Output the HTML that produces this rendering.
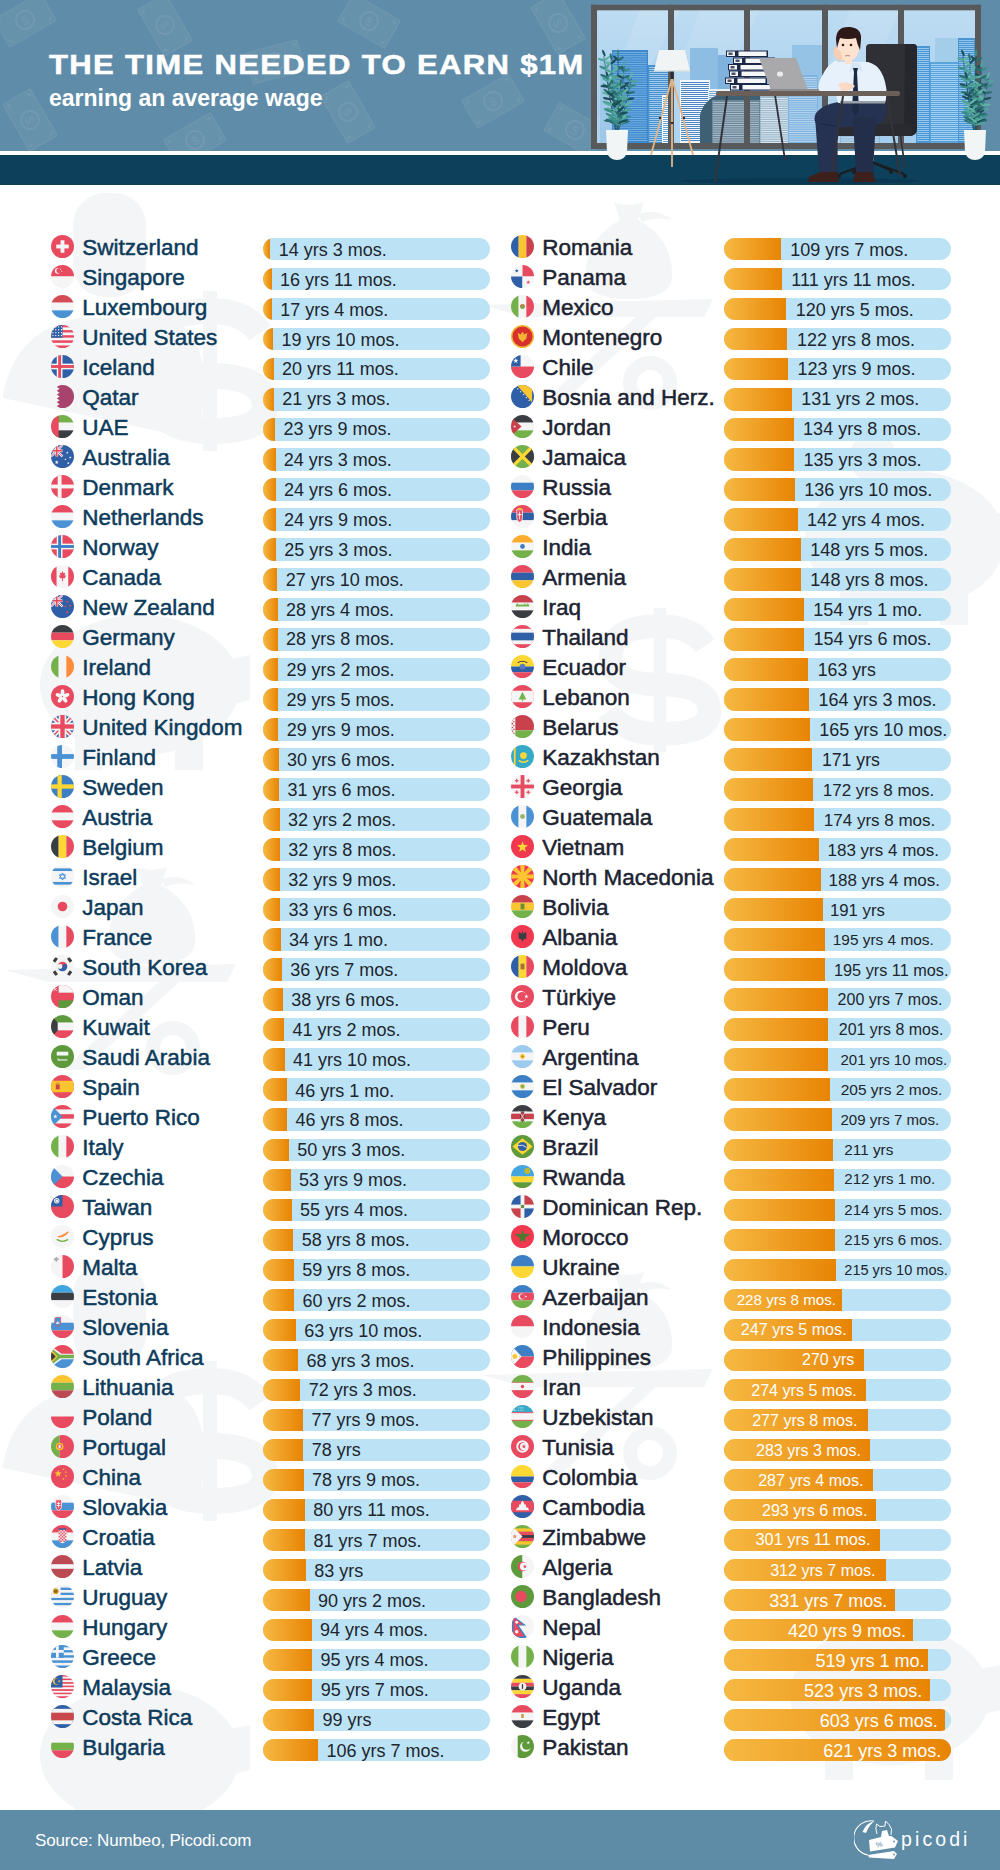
<!DOCTYPE html>
<html><head><meta charset="utf-8"><title>The time needed to earn $1M</title><style>
*{margin:0;padding:0;box-sizing:border-box}
html,body{width:1000px;height:1870px;overflow:hidden;background:#fff}
body{position:relative;font-family:"Liberation Sans",sans-serif}
.fl{position:absolute;width:23px;height:23px;border-radius:50%;overflow:hidden}
.fl svg{display:block}
.nm{position:absolute;font-size:22.5px;line-height:26px;color:#0d3b5b;white-space:nowrap;-webkit-text-stroke:0.5px #0d3b5b}
.nm.r{color:#1c2331;-webkit-text-stroke:0.5px #1c2331}
.tr{position:absolute;width:227px;height:22.5px;border-radius:11.25px;background:#bbe3f5;overflow:hidden}
.or{position:absolute;left:0;top:0;height:100%;background:linear-gradient(90deg,#f6b943,#e88404)}
.vl{position:absolute;line-height:22px;color:#1e252d;white-space:nowrap}
.vl.in{color:#fff}
#hdr{position:absolute;left:0;top:0;width:1000px;height:151px;background:#5f8ca8;overflow:hidden}
#wb{position:absolute;left:0;top:151px;width:1000px;height:4px;background:#fff}
#nv{position:absolute;left:0;top:155px;width:1000px;height:29.5px;background:#0d405b}
#ft{position:absolute;left:0;top:1810px;width:1000px;height:60px;background:#5e8ba6}
</style></head>
<body>
<svg style="position:absolute;left:0;top:185px" width="1000" height="1625" viewBox="0 185 1000 1625"><rect x="73" y="193" width="73" height="104" rx="32" fill="#f4f5f6"/><path d="M3,395 Q15,330 80,318 L170,318 Q200,330 205,380 L200,440 L3,398Z" fill="#f4f5f6"/><g transform="translate(210 371) scale(1.0)"><rect x="-7" y="-80" width="14" height="160" fill="#f4f5f6"/><path d="M50,-38 Q35,-60 0,-60 Q-55,-60 -55,-25 Q-55,5 0,5 Q55,5 55,35 Q55,60 0,60 Q-40,60 -58,35" stroke="#f4f5f6" stroke-width="26" fill="none"/></g><path d="M614,202 Q628,208 644,202 L638,220 Q674,240 672,278 Q670,299 629,299 Q588,299 586,278 Q584,240 620,220Z" fill="#f4f5f6"/><path d="M638,214 Q658,208 672,220 Q656,216 642,222Z" fill="#f4f5f6"/><path d="M482,305 L713,299 L704,317 L526,317Z" fill="#f4f5f6"/><path d="M636,317 L656,317 L560,405 L540,405Z" fill="#f4f5f6"/><circle cx="650" cy="383" r="20" fill="none" stroke="#f4f5f6" stroke-width="14"/><ellipse cx="140" cy="685" rx="100" ry="70" fill="#f4f5f6"/><rect x="75" y="730" width="28" height="40" fill="#f4f5f6"/><rect x="175" y="730" width="28" height="40" fill="#f4f5f6"/><path d="M225,660 L250,655 L250,700 L230,705Z" fill="#f4f5f6"/><rect x="73" y="1263" width="73" height="104" rx="32" fill="#f4f5f6"/><path d="M3,1465 Q15,1400 80,1388 L170,1388 Q200,1400 205,1450 L200,1510 L3,1468Z" fill="#f4f5f6"/><g transform="translate(210 1441) scale(1.0)"><rect x="-7" y="-80" width="14" height="160" fill="#f4f5f6"/><path d="M50,-38 Q35,-60 0,-60 Q-55,-60 -55,-25 Q-55,5 0,5 Q55,5 55,35 Q55,60 0,60 Q-40,60 -58,35" stroke="#f4f5f6" stroke-width="26" fill="none"/></g><path d="M614,1272 Q628,1278 644,1272 L638,1290 Q674,1310 672,1348 Q670,1369 629,1369 Q588,1369 586,1348 Q584,1310 620,1290Z" fill="#f4f5f6"/><path d="M638,1284 Q658,1278 672,1290 Q656,1286 642,1292Z" fill="#f4f5f6"/><path d="M482,1375 L713,1369 L704,1387 L526,1387Z" fill="#f4f5f6"/><path d="M636,1387 L656,1387 L560,1475 L540,1475Z" fill="#f4f5f6"/><circle cx="650" cy="1453" r="20" fill="none" stroke="#f4f5f6" stroke-width="14"/><ellipse cx="140" cy="1755" rx="100" ry="70" fill="#f4f5f6"/><rect x="75" y="1800" width="28" height="40" fill="#f4f5f6"/><rect x="175" y="1800" width="28" height="40" fill="#f4f5f6"/><path d="M225,1730 L250,1725 L250,1770 L230,1775Z" fill="#f4f5f6"/><path d="M137,867 Q151,873 167,867 L161,885 Q197,905 195,943 Q193,964 152,964 Q111,964 109,943 Q107,905 143,885Z" fill="#f4f5f6"/><path d="M161,879 Q181,873 195,885 Q179,881 165,887Z" fill="#f4f5f6"/><path d="M5,970 L236,964 L227,982 L49,982Z" fill="#f4f5f6"/><path d="M159,982 L179,982 L83,1070 L63,1070Z" fill="#f4f5f6"/><circle cx="173" cy="1048" r="20" fill="none" stroke="#f4f5f6" stroke-width="14"/><circle cx="873" cy="458" r="24" fill="#f4f5f6"/><ellipse cx="905" cy="540" rx="100" ry="70" fill="#f4f5f6"/><rect x="840" y="585" width="28" height="40" fill="#f4f5f6"/><rect x="940" y="585" width="28" height="40" fill="#f4f5f6"/><path d="M990,515 L1015,510 L1015,555 L995,560Z" fill="#f4f5f6"/><ellipse cx="890" cy="1695" rx="100" ry="70" fill="#f4f5f6"/><rect x="825" y="1740" width="28" height="40" fill="#f4f5f6"/><rect x="925" y="1740" width="28" height="40" fill="#f4f5f6"/><path d="M975,1670 L1000,1665 L1000,1710 L980,1715Z" fill="#f4f5f6"/><g transform="translate(660 680) scale(0.9)"><rect x="-7" y="-80" width="14" height="160" fill="#f4f5f6"/><path d="M50,-38 Q35,-60 0,-60 Q-55,-60 -55,-25 Q-55,5 0,5 Q55,5 55,35 Q55,60 0,60 Q-40,60 -58,35" stroke="#f4f5f6" stroke-width="26" fill="none"/></g></svg>
<div id="hdr"><svg style="position:absolute;left:0;top:0" width="600" height="151" viewBox="0 0 600 151"><g transform="translate(25 20) rotate(-30)"><rect x="-27" y="-16" width="54" height="32" rx="1.5" fill="#ffffff" fill-opacity="0.055" stroke="#ffffff" stroke-opacity="0.06" stroke-width="1.5"/><circle r="9" fill="none" stroke="#ffffff" stroke-opacity="0.07" stroke-width="2"/><text x="0" y="5" text-anchor="middle" font-size="13" font-weight="bold" fill="#ffffff" fill-opacity="0.07" font-family="Liberation Sans">$</text><path d="M-24,-13 l4,0 l-4,4z M24,13 l-4,0 l4,-4z M24,-13 l-4,0 l4,4z M-24,13 l4,0 l-4,-4z" fill="#ffffff" fill-opacity="0.07"/></g><g transform="translate(165 25) rotate(60)"><rect x="-27" y="-16" width="54" height="32" rx="1.5" fill="#ffffff" fill-opacity="0.055" stroke="#ffffff" stroke-opacity="0.06" stroke-width="1.5"/><circle r="9" fill="none" stroke="#ffffff" stroke-opacity="0.07" stroke-width="2"/><text x="0" y="5" text-anchor="middle" font-size="13" font-weight="bold" fill="#ffffff" fill-opacity="0.07" font-family="Liberation Sans">$</text><path d="M-24,-13 l4,0 l-4,4z M24,13 l-4,0 l4,-4z M24,-13 l-4,0 l4,4z M-24,13 l4,0 l-4,-4z" fill="#ffffff" fill-opacity="0.07"/></g><g transform="translate(30 120) rotate(60)"><rect x="-27" y="-16" width="54" height="32" rx="1.5" fill="#ffffff" fill-opacity="0.055" stroke="#ffffff" stroke-opacity="0.06" stroke-width="1.5"/><circle r="9" fill="none" stroke="#ffffff" stroke-opacity="0.07" stroke-width="2"/><text x="0" y="5" text-anchor="middle" font-size="13" font-weight="bold" fill="#ffffff" fill-opacity="0.07" font-family="Liberation Sans">$</text><path d="M-24,-13 l4,0 l-4,4z M24,13 l-4,0 l4,-4z M24,-13 l-4,0 l4,4z M-24,13 l4,0 l-4,-4z" fill="#ffffff" fill-opacity="0.07"/></g><g transform="translate(195 140) rotate(-30)"><rect x="-27" y="-16" width="54" height="32" rx="1.5" fill="#ffffff" fill-opacity="0.055" stroke="#ffffff" stroke-opacity="0.06" stroke-width="1.5"/><circle r="9" fill="none" stroke="#ffffff" stroke-opacity="0.07" stroke-width="2"/><text x="0" y="5" text-anchor="middle" font-size="13" font-weight="bold" fill="#ffffff" fill-opacity="0.07" font-family="Liberation Sans">$</text><path d="M-24,-13 l4,0 l-4,4z M24,13 l-4,0 l4,-4z M24,-13 l-4,0 l4,4z M-24,13 l4,0 l-4,-4z" fill="#ffffff" fill-opacity="0.07"/></g><g transform="translate(275 62) rotate(-15)"><rect x="-27" y="-16" width="54" height="32" rx="1.5" fill="#ffffff" fill-opacity="0.055" stroke="#ffffff" stroke-opacity="0.06" stroke-width="1.5"/><circle r="9" fill="none" stroke="#ffffff" stroke-opacity="0.07" stroke-width="2"/><text x="0" y="5" text-anchor="middle" font-size="13" font-weight="bold" fill="#ffffff" fill-opacity="0.07" font-family="Liberation Sans">$</text><path d="M-24,-13 l4,0 l-4,4z M24,13 l-4,0 l4,-4z M24,-13 l-4,0 l4,4z M-24,13 l4,0 l-4,-4z" fill="#ffffff" fill-opacity="0.07"/></g><g transform="translate(369 21) rotate(30)"><rect x="-27" y="-16" width="54" height="32" rx="1.5" fill="#ffffff" fill-opacity="0.055" stroke="#ffffff" stroke-opacity="0.06" stroke-width="1.5"/><circle r="9" fill="none" stroke="#ffffff" stroke-opacity="0.07" stroke-width="2"/><text x="0" y="5" text-anchor="middle" font-size="13" font-weight="bold" fill="#ffffff" fill-opacity="0.07" font-family="Liberation Sans">$</text><path d="M-24,-13 l4,0 l-4,4z M24,13 l-4,0 l4,-4z M24,-13 l-4,0 l4,4z M-24,13 l4,0 l-4,-4z" fill="#ffffff" fill-opacity="0.07"/></g><g transform="translate(558 23) rotate(60)"><rect x="-27" y="-16" width="54" height="32" rx="1.5" fill="#ffffff" fill-opacity="0.055" stroke="#ffffff" stroke-opacity="0.06" stroke-width="1.5"/><circle r="9" fill="none" stroke="#ffffff" stroke-opacity="0.07" stroke-width="2"/><text x="0" y="5" text-anchor="middle" font-size="13" font-weight="bold" fill="#ffffff" fill-opacity="0.07" font-family="Liberation Sans">$</text><path d="M-24,-13 l4,0 l-4,4z M24,13 l-4,0 l4,-4z M24,-13 l-4,0 l4,4z M-24,13 l4,0 l-4,-4z" fill="#ffffff" fill-opacity="0.07"/></g><g transform="translate(348 112) rotate(60)"><rect x="-27" y="-16" width="54" height="32" rx="1.5" fill="#ffffff" fill-opacity="0.055" stroke="#ffffff" stroke-opacity="0.06" stroke-width="1.5"/><circle r="9" fill="none" stroke="#ffffff" stroke-opacity="0.07" stroke-width="2"/><text x="0" y="5" text-anchor="middle" font-size="13" font-weight="bold" fill="#ffffff" fill-opacity="0.07" font-family="Liberation Sans">$</text><path d="M-24,-13 l4,0 l-4,4z M24,13 l-4,0 l4,-4z M24,-13 l-4,0 l4,4z M-24,13 l4,0 l-4,-4z" fill="#ffffff" fill-opacity="0.07"/></g><g transform="translate(493 101) rotate(-30)"><rect x="-27" y="-16" width="54" height="32" rx="1.5" fill="#ffffff" fill-opacity="0.055" stroke="#ffffff" stroke-opacity="0.06" stroke-width="1.5"/><circle r="9" fill="none" stroke="#ffffff" stroke-opacity="0.07" stroke-width="2"/><text x="0" y="5" text-anchor="middle" font-size="13" font-weight="bold" fill="#ffffff" fill-opacity="0.07" font-family="Liberation Sans">$</text><path d="M-24,-13 l4,0 l-4,4z M24,13 l-4,0 l4,-4z M24,-13 l-4,0 l4,4z M-24,13 l4,0 l-4,-4z" fill="#ffffff" fill-opacity="0.07"/></g><g transform="translate(575 130) rotate(30)"><rect x="-27" y="-16" width="54" height="32" rx="1.5" fill="#ffffff" fill-opacity="0.055" stroke="#ffffff" stroke-opacity="0.06" stroke-width="1.5"/><circle r="9" fill="none" stroke="#ffffff" stroke-opacity="0.07" stroke-width="2"/><text x="0" y="5" text-anchor="middle" font-size="13" font-weight="bold" fill="#ffffff" fill-opacity="0.07" font-family="Liberation Sans">$</text><path d="M-24,-13 l4,0 l-4,4z M24,13 l-4,0 l4,-4z M24,-13 l-4,0 l4,4z M-24,13 l4,0 l-4,-4z" fill="#ffffff" fill-opacity="0.07"/></g></svg>
<div id="t1" style="position:absolute;left:49px;top:48px;font-size:27.5px;font-weight:bold;color:#fff;letter-spacing:1.16px;line-height:34px;white-space:nowrap;transform:scaleX(1.13);transform-origin:0 0;-webkit-text-stroke:0.5px #fff">THE TIME NEEDED TO EARN $1M</div>
<div style="position:absolute;left:49px;top:84px;font-size:23px;font-weight:bold;color:#fff;line-height:28px;white-space:nowrap">earning an average wage</div>
</div>
<div id="wb"></div>
<div id="nv"></div>
<svg style="position:absolute;left:0;top:0" width="1000" height="190" viewBox="0 0 1000 190"><defs><linearGradient id="sky" x1="0" y1="0" x2="0" y2="1"><stop offset="0" stop-color="#bddcf2"/><stop offset="1" stop-color="#a3cdee"/></linearGradient></defs><rect x="597" y="10" width="378" height="133" fill="url(#sky)"/><polygon points="640,10 680,10 610,143 597,143 597,120" fill="#ffffff" opacity="0.12"/><polygon points="700,10 760,10 690,143 650,143" fill="#ffffff" opacity="0.10"/><polygon points="850,10 900,10 840,143 800,143" fill="#ffffff" opacity="0.10"/><rect x="600" y="60" width="30" height="83" fill="#9fc8e8"/><rect x="690" y="48" width="28" height="95" fill="#8dbde3"/><rect x="718" y="55" width="50" height="88" fill="#7fb3de"/><rect x="792" y="45" width="30" height="98" fill="#95c3e6"/><rect x="935" y="38" width="40" height="105" fill="#a4cdea"/><rect x="612" y="50" width="36" height="93" fill="#3f88cc"/><rect x="613.2" y="52.0" width="33.6" height="0.9" fill="#79b5e6"/><rect x="613.2" y="54.2" width="33.6" height="0.9" fill="#79b5e6"/><rect x="613.2" y="56.4" width="33.6" height="0.9" fill="#79b5e6"/><rect x="613.2" y="58.6" width="33.6" height="0.9" fill="#79b5e6"/><rect x="613.2" y="60.8" width="33.6" height="0.9" fill="#79b5e6"/><rect x="613.2" y="63.0" width="33.6" height="0.9" fill="#79b5e6"/><rect x="613.2" y="65.2" width="33.6" height="0.9" fill="#79b5e6"/><rect x="613.2" y="67.4" width="33.6" height="0.9" fill="#79b5e6"/><rect x="613.2" y="69.6" width="33.6" height="0.9" fill="#79b5e6"/><rect x="613.2" y="71.8" width="33.6" height="0.9" fill="#79b5e6"/><rect x="613.2" y="74.0" width="33.6" height="0.9" fill="#79b5e6"/><rect x="613.2" y="76.2" width="33.6" height="0.9" fill="#79b5e6"/><rect x="613.2" y="78.4" width="33.6" height="0.9" fill="#79b5e6"/><rect x="613.2" y="80.6" width="33.6" height="0.9" fill="#79b5e6"/><rect x="613.2" y="82.8" width="33.6" height="0.9" fill="#79b5e6"/><rect x="613.2" y="85.0" width="33.6" height="0.9" fill="#79b5e6"/><rect x="613.2" y="87.2" width="33.6" height="0.9" fill="#79b5e6"/><rect x="613.2" y="89.4" width="33.6" height="0.9" fill="#79b5e6"/><rect x="613.2" y="91.6" width="33.6" height="0.9" fill="#79b5e6"/><rect x="613.2" y="93.8" width="33.6" height="0.9" fill="#79b5e6"/><rect x="613.2" y="96.0" width="33.6" height="0.9" fill="#79b5e6"/><rect x="613.2" y="98.2" width="33.6" height="0.9" fill="#79b5e6"/><rect x="613.2" y="100.4" width="33.6" height="0.9" fill="#79b5e6"/><rect x="613.2" y="102.6" width="33.6" height="0.9" fill="#79b5e6"/><rect x="613.2" y="104.8" width="33.6" height="0.9" fill="#79b5e6"/><rect x="613.2" y="107.0" width="33.6" height="0.9" fill="#79b5e6"/><rect x="613.2" y="109.2" width="33.6" height="0.9" fill="#79b5e6"/><rect x="613.2" y="111.4" width="33.6" height="0.9" fill="#79b5e6"/><rect x="613.2" y="113.6" width="33.6" height="0.9" fill="#79b5e6"/><rect x="613.2" y="115.8" width="33.6" height="0.9" fill="#79b5e6"/><rect x="613.2" y="118.0" width="33.6" height="0.9" fill="#79b5e6"/><rect x="613.2" y="120.2" width="33.6" height="0.9" fill="#79b5e6"/><rect x="613.2" y="122.4" width="33.6" height="0.9" fill="#79b5e6"/><rect x="613.2" y="124.6" width="33.6" height="0.9" fill="#79b5e6"/><rect x="613.2" y="126.8" width="33.6" height="0.9" fill="#79b5e6"/><rect x="613.2" y="129.0" width="33.6" height="0.9" fill="#79b5e6"/><rect x="613.2" y="131.2" width="33.6" height="0.9" fill="#79b5e6"/><rect x="613.2" y="133.4" width="33.6" height="0.9" fill="#79b5e6"/><rect x="613.2" y="135.6" width="33.6" height="0.9" fill="#79b5e6"/><rect x="613.2" y="137.8" width="33.6" height="0.9" fill="#79b5e6"/><rect x="613.2" y="140.0" width="33.6" height="0.9" fill="#79b5e6"/><rect x="648" y="65" width="22" height="78" fill="#4a90cc"/><rect x="649.2" y="67.0" width="19.6" height="1.0" fill="#9ccbef"/><rect x="649.2" y="69.0" width="19.6" height="1.0" fill="#9ccbef"/><rect x="649.2" y="71.0" width="19.6" height="1.0" fill="#9ccbef"/><rect x="649.2" y="73.0" width="19.6" height="1.0" fill="#9ccbef"/><rect x="649.2" y="75.0" width="19.6" height="1.0" fill="#9ccbef"/><rect x="649.2" y="77.0" width="19.6" height="1.0" fill="#9ccbef"/><rect x="649.2" y="79.0" width="19.6" height="1.0" fill="#9ccbef"/><rect x="649.2" y="81.0" width="19.6" height="1.0" fill="#9ccbef"/><rect x="649.2" y="83.0" width="19.6" height="1.0" fill="#9ccbef"/><rect x="649.2" y="85.0" width="19.6" height="1.0" fill="#9ccbef"/><rect x="649.2" y="87.0" width="19.6" height="1.0" fill="#9ccbef"/><rect x="649.2" y="89.0" width="19.6" height="1.0" fill="#9ccbef"/><rect x="649.2" y="91.0" width="19.6" height="1.0" fill="#9ccbef"/><rect x="649.2" y="93.0" width="19.6" height="1.0" fill="#9ccbef"/><rect x="649.2" y="95.0" width="19.6" height="1.0" fill="#9ccbef"/><rect x="649.2" y="97.0" width="19.6" height="1.0" fill="#9ccbef"/><rect x="649.2" y="99.0" width="19.6" height="1.0" fill="#9ccbef"/><rect x="649.2" y="101.0" width="19.6" height="1.0" fill="#9ccbef"/><rect x="649.2" y="103.0" width="19.6" height="1.0" fill="#9ccbef"/><rect x="649.2" y="105.0" width="19.6" height="1.0" fill="#9ccbef"/><rect x="649.2" y="107.0" width="19.6" height="1.0" fill="#9ccbef"/><rect x="649.2" y="109.0" width="19.6" height="1.0" fill="#9ccbef"/><rect x="649.2" y="111.0" width="19.6" height="1.0" fill="#9ccbef"/><rect x="649.2" y="113.0" width="19.6" height="1.0" fill="#9ccbef"/><rect x="649.2" y="115.0" width="19.6" height="1.0" fill="#9ccbef"/><rect x="649.2" y="117.0" width="19.6" height="1.0" fill="#9ccbef"/><rect x="649.2" y="119.0" width="19.6" height="1.0" fill="#9ccbef"/><rect x="649.2" y="121.0" width="19.6" height="1.0" fill="#9ccbef"/><rect x="649.2" y="123.0" width="19.6" height="1.0" fill="#9ccbef"/><rect x="649.2" y="125.0" width="19.6" height="1.0" fill="#9ccbef"/><rect x="649.2" y="127.0" width="19.6" height="1.0" fill="#9ccbef"/><rect x="649.2" y="129.0" width="19.6" height="1.0" fill="#9ccbef"/><rect x="649.2" y="131.0" width="19.6" height="1.0" fill="#9ccbef"/><rect x="649.2" y="133.0" width="19.6" height="1.0" fill="#9ccbef"/><rect x="649.2" y="135.0" width="19.6" height="1.0" fill="#9ccbef"/><rect x="649.2" y="137.0" width="19.6" height="1.0" fill="#9ccbef"/><rect x="649.2" y="139.0" width="19.6" height="1.0" fill="#9ccbef"/><rect x="649.2" y="141.0" width="19.6" height="1.0" fill="#9ccbef"/><rect x="662" y="95" width="12" height="48" fill="#ffffff"/><rect x="662.8" y="97.0" width="10.4" height="0.9" fill="#5e9fd6"/><rect x="662.8" y="99.0" width="10.4" height="0.9" fill="#5e9fd6"/><rect x="662.8" y="101.0" width="10.4" height="0.9" fill="#5e9fd6"/><rect x="662.8" y="103.0" width="10.4" height="0.9" fill="#5e9fd6"/><rect x="662.8" y="105.0" width="10.4" height="0.9" fill="#5e9fd6"/><rect x="662.8" y="107.0" width="10.4" height="0.9" fill="#5e9fd6"/><rect x="662.8" y="109.0" width="10.4" height="0.9" fill="#5e9fd6"/><rect x="662.8" y="111.0" width="10.4" height="0.9" fill="#5e9fd6"/><rect x="662.8" y="113.0" width="10.4" height="0.9" fill="#5e9fd6"/><rect x="662.8" y="115.0" width="10.4" height="0.9" fill="#5e9fd6"/><rect x="662.8" y="117.0" width="10.4" height="0.9" fill="#5e9fd6"/><rect x="662.8" y="119.0" width="10.4" height="0.9" fill="#5e9fd6"/><rect x="662.8" y="121.0" width="10.4" height="0.9" fill="#5e9fd6"/><rect x="662.8" y="123.0" width="10.4" height="0.9" fill="#5e9fd6"/><rect x="662.8" y="125.0" width="10.4" height="0.9" fill="#5e9fd6"/><rect x="662.8" y="127.0" width="10.4" height="0.9" fill="#5e9fd6"/><rect x="662.8" y="129.0" width="10.4" height="0.9" fill="#5e9fd6"/><rect x="662.8" y="131.0" width="10.4" height="0.9" fill="#5e9fd6"/><rect x="662.8" y="133.0" width="10.4" height="0.9" fill="#5e9fd6"/><rect x="662.8" y="135.0" width="10.4" height="0.9" fill="#5e9fd6"/><rect x="662.8" y="137.0" width="10.4" height="0.9" fill="#5e9fd6"/><rect x="662.8" y="139.0" width="10.4" height="0.9" fill="#5e9fd6"/><rect x="662.8" y="141.0" width="10.4" height="0.9" fill="#5e9fd6"/><rect x="680" y="80" width="30" height="63" fill="#f4f8fc"/><rect x="681.0" y="82.0" width="28.0" height="1.0" fill="#4f89c5"/><rect x="681.0" y="84.0" width="28.0" height="1.0" fill="#4f89c5"/><rect x="681.0" y="86.0" width="28.0" height="1.0" fill="#4f89c5"/><rect x="681.0" y="88.0" width="28.0" height="1.0" fill="#4f89c5"/><rect x="681.0" y="90.0" width="28.0" height="1.0" fill="#4f89c5"/><rect x="681.0" y="92.0" width="28.0" height="1.0" fill="#4f89c5"/><rect x="681.0" y="94.0" width="28.0" height="1.0" fill="#4f89c5"/><rect x="681.0" y="96.0" width="28.0" height="1.0" fill="#4f89c5"/><rect x="681.0" y="98.0" width="28.0" height="1.0" fill="#4f89c5"/><rect x="681.0" y="100.0" width="28.0" height="1.0" fill="#4f89c5"/><rect x="681.0" y="102.0" width="28.0" height="1.0" fill="#4f89c5"/><rect x="681.0" y="104.0" width="28.0" height="1.0" fill="#4f89c5"/><rect x="681.0" y="106.0" width="28.0" height="1.0" fill="#4f89c5"/><rect x="681.0" y="108.0" width="28.0" height="1.0" fill="#4f89c5"/><rect x="681.0" y="110.0" width="28.0" height="1.0" fill="#4f89c5"/><rect x="681.0" y="112.0" width="28.0" height="1.0" fill="#4f89c5"/><rect x="681.0" y="114.0" width="28.0" height="1.0" fill="#4f89c5"/><rect x="681.0" y="116.0" width="28.0" height="1.0" fill="#4f89c5"/><rect x="681.0" y="118.0" width="28.0" height="1.0" fill="#4f89c5"/><rect x="681.0" y="120.0" width="28.0" height="1.0" fill="#4f89c5"/><rect x="681.0" y="122.0" width="28.0" height="1.0" fill="#4f89c5"/><rect x="681.0" y="124.0" width="28.0" height="1.0" fill="#4f89c5"/><rect x="681.0" y="126.0" width="28.0" height="1.0" fill="#4f89c5"/><rect x="681.0" y="128.0" width="28.0" height="1.0" fill="#4f89c5"/><rect x="681.0" y="130.0" width="28.0" height="1.0" fill="#4f89c5"/><rect x="681.0" y="132.0" width="28.0" height="1.0" fill="#4f89c5"/><rect x="681.0" y="134.0" width="28.0" height="1.0" fill="#4f89c5"/><rect x="681.0" y="136.0" width="28.0" height="1.0" fill="#4f89c5"/><rect x="681.0" y="138.0" width="28.0" height="1.0" fill="#4f89c5"/><rect x="681.0" y="140.0" width="28.0" height="1.0" fill="#4f89c5"/><rect x="708" y="89" width="22" height="54" fill="#e8f0f8"/><rect x="709.0" y="91.0" width="20.0" height="0.9" fill="#6f9fcf"/><rect x="709.0" y="93.0" width="20.0" height="0.9" fill="#6f9fcf"/><rect x="709.0" y="95.0" width="20.0" height="0.9" fill="#6f9fcf"/><rect x="709.0" y="97.0" width="20.0" height="0.9" fill="#6f9fcf"/><rect x="709.0" y="99.0" width="20.0" height="0.9" fill="#6f9fcf"/><rect x="709.0" y="101.0" width="20.0" height="0.9" fill="#6f9fcf"/><rect x="709.0" y="103.0" width="20.0" height="0.9" fill="#6f9fcf"/><rect x="709.0" y="105.0" width="20.0" height="0.9" fill="#6f9fcf"/><rect x="709.0" y="107.0" width="20.0" height="0.9" fill="#6f9fcf"/><rect x="709.0" y="109.0" width="20.0" height="0.9" fill="#6f9fcf"/><rect x="709.0" y="111.0" width="20.0" height="0.9" fill="#6f9fcf"/><rect x="709.0" y="113.0" width="20.0" height="0.9" fill="#6f9fcf"/><rect x="709.0" y="115.0" width="20.0" height="0.9" fill="#6f9fcf"/><rect x="709.0" y="117.0" width="20.0" height="0.9" fill="#6f9fcf"/><rect x="709.0" y="119.0" width="20.0" height="0.9" fill="#6f9fcf"/><rect x="709.0" y="121.0" width="20.0" height="0.9" fill="#6f9fcf"/><rect x="709.0" y="123.0" width="20.0" height="0.9" fill="#6f9fcf"/><rect x="709.0" y="125.0" width="20.0" height="0.9" fill="#6f9fcf"/><rect x="709.0" y="127.0" width="20.0" height="0.9" fill="#6f9fcf"/><rect x="709.0" y="129.0" width="20.0" height="0.9" fill="#6f9fcf"/><rect x="709.0" y="131.0" width="20.0" height="0.9" fill="#6f9fcf"/><rect x="709.0" y="133.0" width="20.0" height="0.9" fill="#6f9fcf"/><rect x="709.0" y="135.0" width="20.0" height="0.9" fill="#6f9fcf"/><rect x="709.0" y="137.0" width="20.0" height="0.9" fill="#6f9fcf"/><rect x="709.0" y="139.0" width="20.0" height="0.9" fill="#6f9fcf"/><rect x="709.0" y="141.0" width="20.0" height="0.9" fill="#6f9fcf"/><path d="M700,143 L700,115 Q705,95 730,92 L760,92 L760,143 Z" fill="#3f5f75"/><rect x="712" y="100" width="48" height="43" fill="#6d8797"/><rect x="713.0" y="102.0" width="46.0" height="1.0" fill="#a8bccb"/><rect x="713.0" y="104.2" width="46.0" height="1.0" fill="#a8bccb"/><rect x="713.0" y="106.4" width="46.0" height="1.0" fill="#a8bccb"/><rect x="713.0" y="108.6" width="46.0" height="1.0" fill="#a8bccb"/><rect x="713.0" y="110.8" width="46.0" height="1.0" fill="#a8bccb"/><rect x="713.0" y="113.0" width="46.0" height="1.0" fill="#a8bccb"/><rect x="713.0" y="115.2" width="46.0" height="1.0" fill="#a8bccb"/><rect x="713.0" y="117.4" width="46.0" height="1.0" fill="#a8bccb"/><rect x="713.0" y="119.6" width="46.0" height="1.0" fill="#a8bccb"/><rect x="713.0" y="121.8" width="46.0" height="1.0" fill="#a8bccb"/><rect x="713.0" y="124.0" width="46.0" height="1.0" fill="#a8bccb"/><rect x="713.0" y="126.2" width="46.0" height="1.0" fill="#a8bccb"/><rect x="713.0" y="128.4" width="46.0" height="1.0" fill="#a8bccb"/><rect x="713.0" y="130.6" width="46.0" height="1.0" fill="#a8bccb"/><rect x="713.0" y="132.8" width="46.0" height="1.0" fill="#a8bccb"/><rect x="713.0" y="135.0" width="46.0" height="1.0" fill="#a8bccb"/><rect x="713.0" y="137.2" width="46.0" height="1.0" fill="#a8bccb"/><rect x="713.0" y="139.4" width="46.0" height="1.0" fill="#a8bccb"/><rect x="713.0" y="141.6" width="46.0" height="1.0" fill="#a8bccb"/><rect x="760" y="96" width="40" height="47" fill="#9fb9cc"/><rect x="761.0" y="98.0" width="38.0" height="1.0" fill="#d8e6f0"/><rect x="761.0" y="100.2" width="38.0" height="1.0" fill="#d8e6f0"/><rect x="761.0" y="102.4" width="38.0" height="1.0" fill="#d8e6f0"/><rect x="761.0" y="104.6" width="38.0" height="1.0" fill="#d8e6f0"/><rect x="761.0" y="106.8" width="38.0" height="1.0" fill="#d8e6f0"/><rect x="761.0" y="109.0" width="38.0" height="1.0" fill="#d8e6f0"/><rect x="761.0" y="111.2" width="38.0" height="1.0" fill="#d8e6f0"/><rect x="761.0" y="113.4" width="38.0" height="1.0" fill="#d8e6f0"/><rect x="761.0" y="115.6" width="38.0" height="1.0" fill="#d8e6f0"/><rect x="761.0" y="117.8" width="38.0" height="1.0" fill="#d8e6f0"/><rect x="761.0" y="120.0" width="38.0" height="1.0" fill="#d8e6f0"/><rect x="761.0" y="122.2" width="38.0" height="1.0" fill="#d8e6f0"/><rect x="761.0" y="124.4" width="38.0" height="1.0" fill="#d8e6f0"/><rect x="761.0" y="126.6" width="38.0" height="1.0" fill="#d8e6f0"/><rect x="761.0" y="128.8" width="38.0" height="1.0" fill="#d8e6f0"/><rect x="761.0" y="131.0" width="38.0" height="1.0" fill="#d8e6f0"/><rect x="761.0" y="133.2" width="38.0" height="1.0" fill="#d8e6f0"/><rect x="761.0" y="135.4" width="38.0" height="1.0" fill="#d8e6f0"/><rect x="761.0" y="137.6" width="38.0" height="1.0" fill="#d8e6f0"/><rect x="761.0" y="139.8" width="38.0" height="1.0" fill="#d8e6f0"/><rect x="761.0" y="142.0" width="38.0" height="1.0" fill="#d8e6f0"/><rect x="788" y="75" width="30" height="68" fill="#7fb3de"/><rect x="789.0" y="77.0" width="28.0" height="1.0" fill="#b7d8f0"/><rect x="789.0" y="79.2" width="28.0" height="1.0" fill="#b7d8f0"/><rect x="789.0" y="81.4" width="28.0" height="1.0" fill="#b7d8f0"/><rect x="789.0" y="83.6" width="28.0" height="1.0" fill="#b7d8f0"/><rect x="789.0" y="85.8" width="28.0" height="1.0" fill="#b7d8f0"/><rect x="789.0" y="88.0" width="28.0" height="1.0" fill="#b7d8f0"/><rect x="789.0" y="90.2" width="28.0" height="1.0" fill="#b7d8f0"/><rect x="789.0" y="92.4" width="28.0" height="1.0" fill="#b7d8f0"/><rect x="789.0" y="94.6" width="28.0" height="1.0" fill="#b7d8f0"/><rect x="789.0" y="96.8" width="28.0" height="1.0" fill="#b7d8f0"/><rect x="789.0" y="99.0" width="28.0" height="1.0" fill="#b7d8f0"/><rect x="789.0" y="101.2" width="28.0" height="1.0" fill="#b7d8f0"/><rect x="789.0" y="103.4" width="28.0" height="1.0" fill="#b7d8f0"/><rect x="789.0" y="105.6" width="28.0" height="1.0" fill="#b7d8f0"/><rect x="789.0" y="107.8" width="28.0" height="1.0" fill="#b7d8f0"/><rect x="789.0" y="110.0" width="28.0" height="1.0" fill="#b7d8f0"/><rect x="789.0" y="112.2" width="28.0" height="1.0" fill="#b7d8f0"/><rect x="789.0" y="114.4" width="28.0" height="1.0" fill="#b7d8f0"/><rect x="789.0" y="116.6" width="28.0" height="1.0" fill="#b7d8f0"/><rect x="789.0" y="118.8" width="28.0" height="1.0" fill="#b7d8f0"/><rect x="789.0" y="121.0" width="28.0" height="1.0" fill="#b7d8f0"/><rect x="789.0" y="123.2" width="28.0" height="1.0" fill="#b7d8f0"/><rect x="789.0" y="125.4" width="28.0" height="1.0" fill="#b7d8f0"/><rect x="789.0" y="127.6" width="28.0" height="1.0" fill="#b7d8f0"/><rect x="789.0" y="129.8" width="28.0" height="1.0" fill="#b7d8f0"/><rect x="789.0" y="132.0" width="28.0" height="1.0" fill="#b7d8f0"/><rect x="789.0" y="134.2" width="28.0" height="1.0" fill="#b7d8f0"/><rect x="789.0" y="136.4" width="28.0" height="1.0" fill="#b7d8f0"/><rect x="789.0" y="138.6" width="28.0" height="1.0" fill="#b7d8f0"/><rect x="789.0" y="140.8" width="28.0" height="1.0" fill="#b7d8f0"/><rect x="840" y="120" width="40" height="23" fill="#8fb7d8"/><rect x="841.0" y="122.0" width="38.0" height="1.0" fill="#c9def0"/><rect x="841.0" y="124.2" width="38.0" height="1.0" fill="#c9def0"/><rect x="841.0" y="126.4" width="38.0" height="1.0" fill="#c9def0"/><rect x="841.0" y="128.6" width="38.0" height="1.0" fill="#c9def0"/><rect x="841.0" y="130.8" width="38.0" height="1.0" fill="#c9def0"/><rect x="841.0" y="133.0" width="38.0" height="1.0" fill="#c9def0"/><rect x="841.0" y="135.2" width="38.0" height="1.0" fill="#c9def0"/><rect x="841.0" y="137.4" width="38.0" height="1.0" fill="#c9def0"/><rect x="841.0" y="139.6" width="38.0" height="1.0" fill="#c9def0"/><rect x="841.0" y="141.8" width="38.0" height="1.0" fill="#c9def0"/><rect x="916" y="46" width="14" height="97" fill="#4a95d4"/><rect x="917.0" y="48.0" width="12.0" height="1.0" fill="#95c9ef"/><rect x="917.0" y="50.0" width="12.0" height="1.0" fill="#95c9ef"/><rect x="917.0" y="52.0" width="12.0" height="1.0" fill="#95c9ef"/><rect x="917.0" y="54.0" width="12.0" height="1.0" fill="#95c9ef"/><rect x="917.0" y="56.0" width="12.0" height="1.0" fill="#95c9ef"/><rect x="917.0" y="58.0" width="12.0" height="1.0" fill="#95c9ef"/><rect x="917.0" y="60.0" width="12.0" height="1.0" fill="#95c9ef"/><rect x="917.0" y="62.0" width="12.0" height="1.0" fill="#95c9ef"/><rect x="917.0" y="64.0" width="12.0" height="1.0" fill="#95c9ef"/><rect x="917.0" y="66.0" width="12.0" height="1.0" fill="#95c9ef"/><rect x="917.0" y="68.0" width="12.0" height="1.0" fill="#95c9ef"/><rect x="917.0" y="70.0" width="12.0" height="1.0" fill="#95c9ef"/><rect x="917.0" y="72.0" width="12.0" height="1.0" fill="#95c9ef"/><rect x="917.0" y="74.0" width="12.0" height="1.0" fill="#95c9ef"/><rect x="917.0" y="76.0" width="12.0" height="1.0" fill="#95c9ef"/><rect x="917.0" y="78.0" width="12.0" height="1.0" fill="#95c9ef"/><rect x="917.0" y="80.0" width="12.0" height="1.0" fill="#95c9ef"/><rect x="917.0" y="82.0" width="12.0" height="1.0" fill="#95c9ef"/><rect x="917.0" y="84.0" width="12.0" height="1.0" fill="#95c9ef"/><rect x="917.0" y="86.0" width="12.0" height="1.0" fill="#95c9ef"/><rect x="917.0" y="88.0" width="12.0" height="1.0" fill="#95c9ef"/><rect x="917.0" y="90.0" width="12.0" height="1.0" fill="#95c9ef"/><rect x="917.0" y="92.0" width="12.0" height="1.0" fill="#95c9ef"/><rect x="917.0" y="94.0" width="12.0" height="1.0" fill="#95c9ef"/><rect x="917.0" y="96.0" width="12.0" height="1.0" fill="#95c9ef"/><rect x="917.0" y="98.0" width="12.0" height="1.0" fill="#95c9ef"/><rect x="917.0" y="100.0" width="12.0" height="1.0" fill="#95c9ef"/><rect x="917.0" y="102.0" width="12.0" height="1.0" fill="#95c9ef"/><rect x="917.0" y="104.0" width="12.0" height="1.0" fill="#95c9ef"/><rect x="917.0" y="106.0" width="12.0" height="1.0" fill="#95c9ef"/><rect x="917.0" y="108.0" width="12.0" height="1.0" fill="#95c9ef"/><rect x="917.0" y="110.0" width="12.0" height="1.0" fill="#95c9ef"/><rect x="917.0" y="112.0" width="12.0" height="1.0" fill="#95c9ef"/><rect x="917.0" y="114.0" width="12.0" height="1.0" fill="#95c9ef"/><rect x="917.0" y="116.0" width="12.0" height="1.0" fill="#95c9ef"/><rect x="917.0" y="118.0" width="12.0" height="1.0" fill="#95c9ef"/><rect x="917.0" y="120.0" width="12.0" height="1.0" fill="#95c9ef"/><rect x="917.0" y="122.0" width="12.0" height="1.0" fill="#95c9ef"/><rect x="917.0" y="124.0" width="12.0" height="1.0" fill="#95c9ef"/><rect x="917.0" y="126.0" width="12.0" height="1.0" fill="#95c9ef"/><rect x="917.0" y="128.0" width="12.0" height="1.0" fill="#95c9ef"/><rect x="917.0" y="130.0" width="12.0" height="1.0" fill="#95c9ef"/><rect x="917.0" y="132.0" width="12.0" height="1.0" fill="#95c9ef"/><rect x="917.0" y="134.0" width="12.0" height="1.0" fill="#95c9ef"/><rect x="917.0" y="136.0" width="12.0" height="1.0" fill="#95c9ef"/><rect x="917.0" y="138.0" width="12.0" height="1.0" fill="#95c9ef"/><rect x="917.0" y="140.0" width="12.0" height="1.0" fill="#95c9ef"/><rect x="930" y="62" width="40" height="81" fill="#5aa2da"/><rect x="931.0" y="64.0" width="38.0" height="1.0" fill="#9fd0f2"/><rect x="931.0" y="66.0" width="38.0" height="1.0" fill="#9fd0f2"/><rect x="931.0" y="68.0" width="38.0" height="1.0" fill="#9fd0f2"/><rect x="931.0" y="70.0" width="38.0" height="1.0" fill="#9fd0f2"/><rect x="931.0" y="72.0" width="38.0" height="1.0" fill="#9fd0f2"/><rect x="931.0" y="74.0" width="38.0" height="1.0" fill="#9fd0f2"/><rect x="931.0" y="76.0" width="38.0" height="1.0" fill="#9fd0f2"/><rect x="931.0" y="78.0" width="38.0" height="1.0" fill="#9fd0f2"/><rect x="931.0" y="80.0" width="38.0" height="1.0" fill="#9fd0f2"/><rect x="931.0" y="82.0" width="38.0" height="1.0" fill="#9fd0f2"/><rect x="931.0" y="84.0" width="38.0" height="1.0" fill="#9fd0f2"/><rect x="931.0" y="86.0" width="38.0" height="1.0" fill="#9fd0f2"/><rect x="931.0" y="88.0" width="38.0" height="1.0" fill="#9fd0f2"/><rect x="931.0" y="90.0" width="38.0" height="1.0" fill="#9fd0f2"/><rect x="931.0" y="92.0" width="38.0" height="1.0" fill="#9fd0f2"/><rect x="931.0" y="94.0" width="38.0" height="1.0" fill="#9fd0f2"/><rect x="931.0" y="96.0" width="38.0" height="1.0" fill="#9fd0f2"/><rect x="931.0" y="98.0" width="38.0" height="1.0" fill="#9fd0f2"/><rect x="931.0" y="100.0" width="38.0" height="1.0" fill="#9fd0f2"/><rect x="931.0" y="102.0" width="38.0" height="1.0" fill="#9fd0f2"/><rect x="931.0" y="104.0" width="38.0" height="1.0" fill="#9fd0f2"/><rect x="931.0" y="106.0" width="38.0" height="1.0" fill="#9fd0f2"/><rect x="931.0" y="108.0" width="38.0" height="1.0" fill="#9fd0f2"/><rect x="931.0" y="110.0" width="38.0" height="1.0" fill="#9fd0f2"/><rect x="931.0" y="112.0" width="38.0" height="1.0" fill="#9fd0f2"/><rect x="931.0" y="114.0" width="38.0" height="1.0" fill="#9fd0f2"/><rect x="931.0" y="116.0" width="38.0" height="1.0" fill="#9fd0f2"/><rect x="931.0" y="118.0" width="38.0" height="1.0" fill="#9fd0f2"/><rect x="931.0" y="120.0" width="38.0" height="1.0" fill="#9fd0f2"/><rect x="931.0" y="122.0" width="38.0" height="1.0" fill="#9fd0f2"/><rect x="931.0" y="124.0" width="38.0" height="1.0" fill="#9fd0f2"/><rect x="931.0" y="126.0" width="38.0" height="1.0" fill="#9fd0f2"/><rect x="931.0" y="128.0" width="38.0" height="1.0" fill="#9fd0f2"/><rect x="931.0" y="130.0" width="38.0" height="1.0" fill="#9fd0f2"/><rect x="931.0" y="132.0" width="38.0" height="1.0" fill="#9fd0f2"/><rect x="931.0" y="134.0" width="38.0" height="1.0" fill="#9fd0f2"/><rect x="931.0" y="136.0" width="38.0" height="1.0" fill="#9fd0f2"/><rect x="931.0" y="138.0" width="38.0" height="1.0" fill="#9fd0f2"/><rect x="931.0" y="140.0" width="38.0" height="1.0" fill="#9fd0f2"/><rect x="958" y="38" width="17" height="105" fill="#4d95d0"/><rect x="959.0" y="40.0" width="15.0" height="1.0" fill="#8fc4ec"/><rect x="959.0" y="42.0" width="15.0" height="1.0" fill="#8fc4ec"/><rect x="959.0" y="44.0" width="15.0" height="1.0" fill="#8fc4ec"/><rect x="959.0" y="46.0" width="15.0" height="1.0" fill="#8fc4ec"/><rect x="959.0" y="48.0" width="15.0" height="1.0" fill="#8fc4ec"/><rect x="959.0" y="50.0" width="15.0" height="1.0" fill="#8fc4ec"/><rect x="959.0" y="52.0" width="15.0" height="1.0" fill="#8fc4ec"/><rect x="959.0" y="54.0" width="15.0" height="1.0" fill="#8fc4ec"/><rect x="959.0" y="56.0" width="15.0" height="1.0" fill="#8fc4ec"/><rect x="959.0" y="58.0" width="15.0" height="1.0" fill="#8fc4ec"/><rect x="959.0" y="60.0" width="15.0" height="1.0" fill="#8fc4ec"/><rect x="959.0" y="62.0" width="15.0" height="1.0" fill="#8fc4ec"/><rect x="959.0" y="64.0" width="15.0" height="1.0" fill="#8fc4ec"/><rect x="959.0" y="66.0" width="15.0" height="1.0" fill="#8fc4ec"/><rect x="959.0" y="68.0" width="15.0" height="1.0" fill="#8fc4ec"/><rect x="959.0" y="70.0" width="15.0" height="1.0" fill="#8fc4ec"/><rect x="959.0" y="72.0" width="15.0" height="1.0" fill="#8fc4ec"/><rect x="959.0" y="74.0" width="15.0" height="1.0" fill="#8fc4ec"/><rect x="959.0" y="76.0" width="15.0" height="1.0" fill="#8fc4ec"/><rect x="959.0" y="78.0" width="15.0" height="1.0" fill="#8fc4ec"/><rect x="959.0" y="80.0" width="15.0" height="1.0" fill="#8fc4ec"/><rect x="959.0" y="82.0" width="15.0" height="1.0" fill="#8fc4ec"/><rect x="959.0" y="84.0" width="15.0" height="1.0" fill="#8fc4ec"/><rect x="959.0" y="86.0" width="15.0" height="1.0" fill="#8fc4ec"/><rect x="959.0" y="88.0" width="15.0" height="1.0" fill="#8fc4ec"/><rect x="959.0" y="90.0" width="15.0" height="1.0" fill="#8fc4ec"/><rect x="959.0" y="92.0" width="15.0" height="1.0" fill="#8fc4ec"/><rect x="959.0" y="94.0" width="15.0" height="1.0" fill="#8fc4ec"/><rect x="959.0" y="96.0" width="15.0" height="1.0" fill="#8fc4ec"/><rect x="959.0" y="98.0" width="15.0" height="1.0" fill="#8fc4ec"/><rect x="959.0" y="100.0" width="15.0" height="1.0" fill="#8fc4ec"/><rect x="959.0" y="102.0" width="15.0" height="1.0" fill="#8fc4ec"/><rect x="959.0" y="104.0" width="15.0" height="1.0" fill="#8fc4ec"/><rect x="959.0" y="106.0" width="15.0" height="1.0" fill="#8fc4ec"/><rect x="959.0" y="108.0" width="15.0" height="1.0" fill="#8fc4ec"/><rect x="959.0" y="110.0" width="15.0" height="1.0" fill="#8fc4ec"/><rect x="959.0" y="112.0" width="15.0" height="1.0" fill="#8fc4ec"/><rect x="959.0" y="114.0" width="15.0" height="1.0" fill="#8fc4ec"/><rect x="959.0" y="116.0" width="15.0" height="1.0" fill="#8fc4ec"/><rect x="959.0" y="118.0" width="15.0" height="1.0" fill="#8fc4ec"/><rect x="959.0" y="120.0" width="15.0" height="1.0" fill="#8fc4ec"/><rect x="959.0" y="122.0" width="15.0" height="1.0" fill="#8fc4ec"/><rect x="959.0" y="124.0" width="15.0" height="1.0" fill="#8fc4ec"/><rect x="959.0" y="126.0" width="15.0" height="1.0" fill="#8fc4ec"/><rect x="959.0" y="128.0" width="15.0" height="1.0" fill="#8fc4ec"/><rect x="959.0" y="130.0" width="15.0" height="1.0" fill="#8fc4ec"/><rect x="959.0" y="132.0" width="15.0" height="1.0" fill="#8fc4ec"/><rect x="959.0" y="134.0" width="15.0" height="1.0" fill="#8fc4ec"/><rect x="959.0" y="136.0" width="15.0" height="1.0" fill="#8fc4ec"/><rect x="959.0" y="138.0" width="15.0" height="1.0" fill="#8fc4ec"/><rect x="959.0" y="140.0" width="15.0" height="1.0" fill="#8fc4ec"/><rect x="591" y="4.8" width="390" height="5.5" fill="#58595b"/><rect x="591" y="143" width="390" height="6" fill="#58595b"/><rect x="591" y="4.8" width="6" height="144" fill="#58595b"/><rect x="975" y="4.8" width="6" height="144" fill="#58595b"/><rect x="668" y="4.8" width="6" height="144" fill="#58595b"/><rect x="744" y="4.8" width="6" height="144" fill="#58595b"/><rect x="822" y="4.8" width="6" height="144" fill="#58595b"/><rect x="898" y="4.8" width="6" height="144" fill="#58595b"/><ellipse cx="800" cy="181" rx="120" ry="3" fill="#0a3550" opacity="0.8"/><path d="M615.4,130 Q609.6,99.0 603.8,56.0" stroke="#1d4d58" stroke-width="0.7" fill="none"/><path d="M616.2,130 Q613.6,100.8 611.0,59.7" stroke="#1d4d58" stroke-width="0.7" fill="none"/><path d="M617.1,130 Q617.7,99.0 618.2,56.0" stroke="#1d4d58" stroke-width="0.7" fill="none"/><path d="M617.9,130 Q621.0,104.5 624.2,67.1" stroke="#1d4d58" stroke-width="0.7" fill="none"/><path d="M618.8,130 Q625.1,110.1 631.4,78.2" stroke="#1d4d58" stroke-width="0.7" fill="none"/><path d="M615.8,130 Q611.6,110.1 607.4,78.2" stroke="#1d4d58" stroke-width="0.7" fill="none"/><path d="M617.5,130 Q619.0,113.8 620.6,85.6" stroke="#1d4d58" stroke-width="0.7" fill="none"/><ellipse cx="615.9" cy="58.2" rx="3.6" ry="1.2" fill="#1d4d58" transform="rotate(-136 615.9 58.2)"/><ellipse cx="613.8" cy="97.1" rx="4.3" ry="1.2" fill="#2a6d70" transform="rotate(-39 613.8 97.1)"/><ellipse cx="624.8" cy="122.5" rx="5.3" ry="1.2" fill="#2a6d70" transform="rotate(-17 624.8 122.5)"/><ellipse cx="602.8" cy="67.7" rx="3.9" ry="1.2" fill="#3a8c86" transform="rotate(-156 602.8 67.7)"/><ellipse cx="623.6" cy="113.7" rx="5.0" ry="1.2" fill="#2a6d70" transform="rotate(-20 623.6 113.7)"/><ellipse cx="622.2" cy="106.8" rx="4.6" ry="1.2" fill="#2a6d70" transform="rotate(-35 622.2 106.8)"/><ellipse cx="603.8" cy="53.0" rx="3.5" ry="1.1" fill="#1d4d58" transform="rotate(-112 603.8 53.0)"/><ellipse cx="607.0" cy="58.5" rx="3.6" ry="1.2" fill="#5fb2a6" transform="rotate(-37 607.0 58.5)"/><ellipse cx="628.5" cy="79.0" rx="3.6" ry="1.2" fill="#3a8c86" transform="rotate(-135 628.5 79.0)"/><ellipse cx="626.7" cy="85.1" rx="3.9" ry="1.2" fill="#2a6d70" transform="rotate(-138 626.7 85.1)"/><ellipse cx="617.3" cy="91.5" rx="3.9" ry="1.2" fill="#4fa39a" transform="rotate(-145 617.3 91.5)"/><ellipse cx="618.2" cy="53.0" rx="3.5" ry="1.1" fill="#3a8c86" transform="rotate(-88 618.2 53.0)"/><ellipse cx="613.2" cy="92.8" rx="4.6" ry="1.2" fill="#1d4d58" transform="rotate(-35 613.2 92.8)"/><ellipse cx="627.3" cy="110.4" rx="4.8" ry="1.2" fill="#4fa39a" transform="rotate(-18 627.3 110.4)"/><ellipse cx="615.1" cy="83.7" rx="4.3" ry="1.2" fill="#3a8c86" transform="rotate(-134 615.1 83.7)"/><ellipse cx="606.1" cy="93.7" rx="4.6" ry="1.2" fill="#5fb2a6" transform="rotate(-159 606.1 93.7)"/><ellipse cx="630.0" cy="98.9" rx="4.3" ry="1.2" fill="#1d4d58" transform="rotate(-9 630.0 98.9)"/><ellipse cx="611.0" cy="120.4" rx="5.3" ry="1.2" fill="#3a8c86" transform="rotate(-164 611.0 120.4)"/><ellipse cx="609.2" cy="120.9" rx="5.3" ry="1.2" fill="#2a6d70" transform="rotate(-175 609.2 120.9)"/><ellipse cx="622.1" cy="122.7" rx="5.3" ry="1.2" fill="#4fa39a" transform="rotate(-26 622.1 122.7)"/><ellipse cx="625.9" cy="90.3" rx="4.1" ry="1.2" fill="#1d4d58" transform="rotate(-121 625.9 90.3)"/><ellipse cx="620.0" cy="119.9" rx="5.3" ry="1.2" fill="#4fa39a" transform="rotate(-23 620.0 119.9)"/><ellipse cx="615.4" cy="119.1" rx="5.3" ry="1.2" fill="#5fb2a6" transform="rotate(-133 615.4 119.1)"/><ellipse cx="614.3" cy="100.8" rx="4.8" ry="1.2" fill="#5fb2a6" transform="rotate(-45 614.3 100.8)"/><ellipse cx="616.7" cy="109.8" rx="4.8" ry="1.2" fill="#5fb2a6" transform="rotate(-26 616.7 109.8)"/><ellipse cx="626.2" cy="77.0" rx="3.9" ry="1.2" fill="#2a6d70" transform="rotate(-21 626.2 77.0)"/><ellipse cx="614.6" cy="70.1" rx="3.9" ry="1.2" fill="#5fb2a6" transform="rotate(-36 614.6 70.1)"/><ellipse cx="617.9" cy="86.3" rx="3.6" ry="1.2" fill="#5fb2a6" transform="rotate(-143 617.9 86.3)"/><ellipse cx="614.3" cy="101.0" rx="4.8" ry="1.2" fill="#1d4d58" transform="rotate(-139 614.3 101.0)"/><ellipse cx="624.3" cy="106.9" rx="4.8" ry="1.2" fill="#3a8c86" transform="rotate(-12 624.3 106.9)"/><ellipse cx="611.8" cy="85.6" rx="3.9" ry="1.2" fill="#4fa39a" transform="rotate(-30 611.8 85.6)"/><ellipse cx="606.9" cy="91.4" rx="4.1" ry="1.2" fill="#2a6d70" transform="rotate(-146 606.9 91.4)"/><ellipse cx="633.8" cy="81.2" rx="3.6" ry="1.2" fill="#4fa39a" transform="rotate(-1 633.8 81.2)"/><ellipse cx="609.9" cy="115.5" rx="5.0" ry="1.2" fill="#3a8c86" transform="rotate(-149 609.9 115.5)"/><ellipse cx="611.3" cy="110.8" rx="5.0" ry="1.2" fill="#4fa39a" transform="rotate(-144 611.3 110.8)"/><ellipse cx="616.5" cy="96.9" rx="4.1" ry="1.2" fill="#3a8c86" transform="rotate(-151 616.5 96.9)"/><ellipse cx="620.2" cy="108.6" rx="4.8" ry="1.2" fill="#3a8c86" transform="rotate(-134 620.2 108.6)"/><ellipse cx="610.6" cy="121.7" rx="5.3" ry="1.2" fill="#2a6d70" transform="rotate(-152 610.6 121.7)"/><ellipse cx="613.3" cy="110.7" rx="5.0" ry="1.2" fill="#5fb2a6" transform="rotate(-155 613.3 110.7)"/><ellipse cx="608.1" cy="104.1" rx="4.6" ry="1.2" fill="#5fb2a6" transform="rotate(-158 608.1 104.1)"/><ellipse cx="618.1" cy="91.5" rx="4.3" ry="1.2" fill="#4fa39a" transform="rotate(-156 618.1 91.5)"/><ellipse cx="625.6" cy="84.1" rx="4.1" ry="1.2" fill="#1d4d58" transform="rotate(-25 625.6 84.1)"/><ellipse cx="621.1" cy="67.8" rx="3.9" ry="1.2" fill="#1d4d58" transform="rotate(-22 621.1 67.8)"/><ellipse cx="622.7" cy="113.2" rx="4.8" ry="1.2" fill="#1d4d58" transform="rotate(-15 622.7 113.2)"/><ellipse cx="616.7" cy="120.8" rx="5.3" ry="1.2" fill="#1d4d58" transform="rotate(-139 616.7 120.8)"/><ellipse cx="608.8" cy="110.2" rx="4.8" ry="1.2" fill="#4fa39a" transform="rotate(-160 608.8 110.2)"/><ellipse cx="614.3" cy="92.8" rx="4.6" ry="1.2" fill="#2a6d70" transform="rotate(-144 614.3 92.8)"/><ellipse cx="622.9" cy="97.5" rx="4.3" ry="1.2" fill="#5fb2a6" transform="rotate(-149 622.9 97.5)"/><ellipse cx="623.1" cy="92.1" rx="3.9" ry="1.2" fill="#5fb2a6" transform="rotate(-23 623.1 92.1)"/><ellipse cx="609.0" cy="79.8" rx="4.1" ry="1.2" fill="#3a8c86" transform="rotate(-170 609.0 79.8)"/><ellipse cx="626.3" cy="117.3" rx="5.0" ry="1.2" fill="#3a8c86" transform="rotate(-7 626.3 117.3)"/><ellipse cx="626.8" cy="69.9" rx="3.6" ry="1.2" fill="#3a8c86" transform="rotate(-17 626.8 69.9)"/><ellipse cx="620.9" cy="75.8" rx="4.1" ry="1.2" fill="#5fb2a6" transform="rotate(-34 620.9 75.8)"/><ellipse cx="615.1" cy="77.9" rx="4.1" ry="1.2" fill="#4fa39a" transform="rotate(-45 615.1 77.9)"/><ellipse cx="610.5" cy="79.6" rx="3.6" ry="1.2" fill="#5fb2a6" transform="rotate(-33 610.5 79.6)"/><ellipse cx="615.4" cy="67.0" rx="3.9" ry="1.2" fill="#5fb2a6" transform="rotate(-142 615.4 67.0)"/><ellipse cx="605.2" cy="79.6" rx="3.6" ry="1.2" fill="#4fa39a" transform="rotate(-148 605.2 79.6)"/><ellipse cx="607.4" cy="75.2" rx="3.5" ry="1.1" fill="#1d4d58" transform="rotate(-106 607.4 75.2)"/><ellipse cx="609.5" cy="87.6" rx="4.3" ry="1.2" fill="#2a6d70" transform="rotate(-165 609.5 87.6)"/><ellipse cx="619.9" cy="83.0" rx="4.1" ry="1.2" fill="#5fb2a6" transform="rotate(-134 619.9 83.0)"/><ellipse cx="628.3" cy="103.6" rx="4.6" ry="1.2" fill="#5fb2a6" transform="rotate(-29 628.3 103.6)"/><ellipse cx="605.9" cy="85.7" rx="3.9" ry="1.2" fill="#3a8c86" transform="rotate(-151 605.9 85.7)"/><ellipse cx="623.2" cy="121.2" rx="5.3" ry="1.2" fill="#1d4d58" transform="rotate(-17 623.2 121.2)"/><ellipse cx="617.3" cy="104.6" rx="4.8" ry="1.2" fill="#2a6d70" transform="rotate(-131 617.3 104.6)"/><ellipse cx="616.2" cy="86.3" rx="4.3" ry="1.2" fill="#3a8c86" transform="rotate(-39 616.2 86.3)"/><ellipse cx="621.6" cy="68.7" rx="3.6" ry="1.2" fill="#2a6d70" transform="rotate(-136 621.6 68.7)"/><ellipse cx="631.4" cy="75.2" rx="3.5" ry="1.1" fill="#5fb2a6" transform="rotate(-66 631.4 75.2)"/><ellipse cx="607.6" cy="66.2" rx="3.9" ry="1.2" fill="#4fa39a" transform="rotate(-59 607.6 66.2)"/><ellipse cx="611.0" cy="56.7" rx="3.5" ry="1.1" fill="#2a6d70" transform="rotate(-100 611.0 56.7)"/><ellipse cx="616.9" cy="94.3" rx="4.6" ry="1.2" fill="#2a6d70" transform="rotate(-40 616.9 94.3)"/><ellipse cx="615.5" cy="112.8" rx="5.0" ry="1.2" fill="#1d4d58" transform="rotate(-148 615.5 112.8)"/><ellipse cx="621.4" cy="85.3" rx="4.3" ry="1.2" fill="#4fa39a" transform="rotate(-18 621.4 85.3)"/><ellipse cx="620.8" cy="58.7" rx="3.6" ry="1.2" fill="#2a6d70" transform="rotate(-31 620.8 58.7)"/><ellipse cx="621.3" cy="101.9" rx="4.8" ry="1.2" fill="#2a6d70" transform="rotate(-27 621.3 101.9)"/><ellipse cx="620.6" cy="82.6" rx="3.5" ry="1.1" fill="#2a6d70" transform="rotate(-84 620.6 82.6)"/><ellipse cx="614.9" cy="102.9" rx="4.6" ry="1.2" fill="#1d4d58" transform="rotate(-41 614.9 102.9)"/><ellipse cx="624.9" cy="91.1" rx="4.3" ry="1.2" fill="#5fb2a6" transform="rotate(-30 624.9 91.1)"/><ellipse cx="620.1" cy="76.6" rx="3.9" ry="1.2" fill="#1d4d58" transform="rotate(-152 620.1 76.6)"/><ellipse cx="620.8" cy="92.7" rx="4.6" ry="1.2" fill="#3a8c86" transform="rotate(-38 620.8 92.7)"/><ellipse cx="624.7" cy="99.0" rx="4.6" ry="1.2" fill="#4fa39a" transform="rotate(-20 624.7 99.0)"/><ellipse cx="616.9" cy="114.4" rx="5.0" ry="1.2" fill="#4fa39a" transform="rotate(-48 616.9 114.4)"/><ellipse cx="607.1" cy="98.7" rx="4.3" ry="1.2" fill="#1d4d58" transform="rotate(-167 607.1 98.7)"/><ellipse cx="614.5" cy="112.8" rx="4.8" ry="1.2" fill="#5fb2a6" transform="rotate(-160 614.5 112.8)"/><ellipse cx="624.2" cy="64.1" rx="3.5" ry="1.1" fill="#4fa39a" transform="rotate(-78 624.2 64.1)"/><ellipse cx="622.2" cy="117.4" rx="5.0" ry="1.2" fill="#5fb2a6" transform="rotate(-28 622.2 117.4)"/><ellipse cx="617.9" cy="110.0" rx="5.0" ry="1.2" fill="#5fb2a6" transform="rotate(-50 617.9 110.0)"/><ellipse cx="610.2" cy="104.5" rx="4.8" ry="1.2" fill="#5fb2a6" transform="rotate(-170 610.2 104.5)"/><ellipse cx="604.7" cy="86.2" rx="4.3" ry="1.2" fill="#1d4d58" transform="rotate(-176 604.7 86.2)"/><ellipse cx="620.7" cy="109.5" rx="5.0" ry="1.2" fill="#1d4d58" transform="rotate(-43 620.7 109.5)"/><ellipse cx="614.5" cy="76.5" rx="4.1" ry="1.2" fill="#4fa39a" transform="rotate(-160 614.5 76.5)"/><ellipse cx="622.7" cy="102.2" rx="4.3" ry="1.2" fill="#3a8c86" transform="rotate(-27 622.7 102.2)"/><ellipse cx="631.2" cy="92.7" rx="4.1" ry="1.2" fill="#2a6d70" transform="rotate(-12 631.2 92.7)"/><ellipse cx="601.5" cy="59.6" rx="3.6" ry="1.2" fill="#4fa39a" transform="rotate(-165 601.5 59.6)"/><ellipse cx="612.9" cy="119.4" rx="5.3" ry="1.2" fill="#4fa39a" transform="rotate(-157 612.9 119.4)"/><ellipse cx="608.3" cy="63.0" rx="3.6" ry="1.2" fill="#5fb2a6" transform="rotate(-164 608.3 63.0)"/><ellipse cx="621.4" cy="118.9" rx="5.3" ry="1.2" fill="#5fb2a6" transform="rotate(-30 621.4 118.9)"/><ellipse cx="611.9" cy="90.5" rx="4.1" ry="1.2" fill="#3a8c86" transform="rotate(-55 611.9 90.5)"/><ellipse cx="618.0" cy="118.7" rx="5.3" ry="1.2" fill="#3a8c86" transform="rotate(-33 618.0 118.7)"/><ellipse cx="617.7" cy="97.9" rx="4.6" ry="1.2" fill="#3a8c86" transform="rotate(-142 617.7 97.9)"/><ellipse cx="608.5" cy="110.7" rx="5.0" ry="1.2" fill="#3a8c86" transform="rotate(-156 608.5 110.7)"/><ellipse cx="604.0" cy="76.2" rx="4.1" ry="1.2" fill="#2a6d70" transform="rotate(-154 604.0 76.2)"/><ellipse cx="610.6" cy="83.2" rx="4.3" ry="1.2" fill="#2a6d70" transform="rotate(-58 610.6 83.2)"/><ellipse cx="618.5" cy="120.9" rx="5.3" ry="1.2" fill="#3a8c86" transform="rotate(-39 618.5 120.9)"/><ellipse cx="607.1" cy="102.7" rx="4.8" ry="1.2" fill="#4fa39a" transform="rotate(-164 607.1 102.7)"/><ellipse cx="613.5" cy="61.7" rx="3.6" ry="1.2" fill="#1d4d58" transform="rotate(-44 613.5 61.7)"/><ellipse cx="614.5" cy="116.9" rx="5.0" ry="1.2" fill="#4fa39a" transform="rotate(-144 614.5 116.9)"/><ellipse cx="615.6" cy="106.7" rx="4.6" ry="1.2" fill="#1d4d58" transform="rotate(-144 615.6 106.7)"/><ellipse cx="622.8" cy="96.8" rx="4.1" ry="1.2" fill="#4fa39a" transform="rotate(-31 622.8 96.8)"/><ellipse cx="623.2" cy="86.8" rx="3.6" ry="1.2" fill="#1d4d58" transform="rotate(-28 623.2 86.8)"/><ellipse cx="609.7" cy="75.2" rx="4.1" ry="1.2" fill="#3a8c86" transform="rotate(-46 609.7 75.2)"/><ellipse cx="616.1" cy="101.8" rx="4.3" ry="1.2" fill="#2a6d70" transform="rotate(-146 616.1 101.8)"/><ellipse cx="610.5" cy="94.5" rx="4.6" ry="1.2" fill="#1d4d58" transform="rotate(-143 610.5 94.5)"/><ellipse cx="621.8" cy="102.8" rx="4.6" ry="1.2" fill="#4fa39a" transform="rotate(-135 621.8 102.8)"/><ellipse cx="618.6" cy="114.6" rx="5.0" ry="1.2" fill="#2a6d70" transform="rotate(-135 618.6 114.6)"/><ellipse cx="617.9" cy="102.7" rx="4.8" ry="1.2" fill="#1d4d58" transform="rotate(-35 617.9 102.7)"/><ellipse cx="632.2" cy="85.9" rx="3.9" ry="1.2" fill="#3a8c86" transform="rotate(-25 632.2 85.9)"/><ellipse cx="608.8" cy="70.9" rx="3.9" ry="1.2" fill="#4fa39a" transform="rotate(-158 608.8 70.9)"/><ellipse cx="614.3" cy="121.5" rx="5.3" ry="1.2" fill="#3a8c86" transform="rotate(-137 614.3 121.5)"/><ellipse cx="615.5" cy="109.1" rx="5.0" ry="1.2" fill="#4fa39a" transform="rotate(-51 615.5 109.1)"/><path d="M606,130 L628,130 L627,152 Q625,160 617,160 Q609,160 607,152 Z" fill="#f1f5f5"/><path d="M973.4,130 Q968.1,99.0 962.9,56.0" stroke="#1d4d58" stroke-width="0.7" fill="none"/><path d="M974.2,130 Q971.9,100.8 969.5,59.7" stroke="#1d4d58" stroke-width="0.7" fill="none"/><path d="M975.1,130 Q975.6,99.0 976.1,56.0" stroke="#1d4d58" stroke-width="0.7" fill="none"/><path d="M975.9,130 Q978.8,104.5 981.6,67.1" stroke="#1d4d58" stroke-width="0.7" fill="none"/><path d="M976.8,130 Q982.5,110.1 988.2,78.2" stroke="#1d4d58" stroke-width="0.7" fill="none"/><path d="M973.8,130 Q970.0,110.1 966.2,78.2" stroke="#1d4d58" stroke-width="0.7" fill="none"/><path d="M975.5,130 Q976.9,113.8 978.3,85.6" stroke="#1d4d58" stroke-width="0.7" fill="none"/><ellipse cx="972.7" cy="84.1" rx="4.3" ry="1.2" fill="#3a8c86" transform="rotate(-141 972.7 84.1)"/><ellipse cx="979.9" cy="120.2" rx="5.3" ry="1.2" fill="#5fb2a6" transform="rotate(-14 979.9 120.2)"/><ellipse cx="976.2" cy="118.9" rx="5.3" ry="1.2" fill="#3a8c86" transform="rotate(-30 976.2 118.9)"/><ellipse cx="975.3" cy="101.9" rx="4.8" ry="1.2" fill="#1d4d58" transform="rotate(-50 975.3 101.9)"/><ellipse cx="968.3" cy="104.5" rx="4.8" ry="1.2" fill="#5fb2a6" transform="rotate(-170 968.3 104.5)"/><ellipse cx="978.5" cy="108.1" rx="4.8" ry="1.2" fill="#3a8c86" transform="rotate(-123 978.5 108.1)"/><ellipse cx="981.0" cy="120.8" rx="5.3" ry="1.2" fill="#1d4d58" transform="rotate(-22 981.0 120.8)"/><ellipse cx="985.3" cy="79.0" rx="3.6" ry="1.2" fill="#3a8c86" transform="rotate(-135 985.3 79.0)"/><ellipse cx="968.5" cy="122.0" rx="5.3" ry="1.2" fill="#2a6d70" transform="rotate(-156 968.5 122.0)"/><ellipse cx="961.5" cy="68.2" rx="3.9" ry="1.2" fill="#3a8c86" transform="rotate(-166 961.5 68.2)"/><ellipse cx="976.4" cy="110.4" rx="5.0" ry="1.2" fill="#5fb2a6" transform="rotate(-43 976.4 110.4)"/><ellipse cx="975.9" cy="86.1" rx="3.6" ry="1.2" fill="#5fb2a6" transform="rotate(-137 975.9 86.1)"/><ellipse cx="973.6" cy="102.5" rx="4.3" ry="1.2" fill="#2a6d70" transform="rotate(-159 973.6 102.5)"/><ellipse cx="980.8" cy="97.5" rx="4.1" ry="1.2" fill="#4fa39a" transform="rotate(-19 980.8 97.5)"/><ellipse cx="973.6" cy="58.4" rx="3.6" ry="1.2" fill="#1d4d58" transform="rotate(-141 973.6 58.4)"/><ellipse cx="972.3" cy="101.0" rx="4.8" ry="1.2" fill="#1d4d58" transform="rotate(-137 972.3 101.0)"/><ellipse cx="972.4" cy="112.9" rx="4.8" ry="1.2" fill="#5fb2a6" transform="rotate(-160 972.4 112.9)"/><ellipse cx="982.6" cy="99.6" rx="4.6" ry="1.2" fill="#4fa39a" transform="rotate(-11 982.6 99.6)"/><ellipse cx="974.6" cy="92.3" rx="3.9" ry="1.2" fill="#4fa39a" transform="rotate(-161 974.6 92.3)"/><ellipse cx="976.8" cy="90.1" rx="4.3" ry="1.2" fill="#4fa39a" transform="rotate(-131 976.8 90.1)"/><ellipse cx="980.8" cy="96.8" rx="4.3" ry="1.2" fill="#5fb2a6" transform="rotate(-135 980.8 96.8)"/><ellipse cx="974.5" cy="105.2" rx="4.8" ry="1.2" fill="#2a6d70" transform="rotate(-142 974.5 105.2)"/><ellipse cx="973.6" cy="66.7" rx="3.9" ry="1.2" fill="#5fb2a6" transform="rotate(-135 973.6 66.7)"/><ellipse cx="968.7" cy="78.9" rx="3.6" ry="1.2" fill="#5fb2a6" transform="rotate(-48 968.7 78.9)"/><ellipse cx="967.9" cy="87.3" rx="4.3" ry="1.2" fill="#2a6d70" transform="rotate(-160 967.9 87.3)"/><ellipse cx="972.5" cy="69.5" rx="3.9" ry="1.2" fill="#5fb2a6" transform="rotate(-51 972.5 69.5)"/><ellipse cx="965.9" cy="97.9" rx="4.3" ry="1.2" fill="#1d4d58" transform="rotate(-155 965.9 97.9)"/><ellipse cx="971.2" cy="118.8" rx="5.3" ry="1.2" fill="#4fa39a" transform="rotate(-148 971.2 118.8)"/><ellipse cx="984.8" cy="110.2" rx="4.8" ry="1.2" fill="#4fa39a" transform="rotate(-21 984.8 110.2)"/><ellipse cx="972.3" cy="117.2" rx="5.0" ry="1.2" fill="#4fa39a" transform="rotate(-149 972.3 117.2)"/><ellipse cx="989.3" cy="86.0" rx="3.9" ry="1.2" fill="#3a8c86" transform="rotate(-24 989.3 86.0)"/><ellipse cx="968.1" cy="115.6" rx="5.0" ry="1.2" fill="#3a8c86" transform="rotate(-150 968.1 115.6)"/><ellipse cx="974.9" cy="87.1" rx="4.3" ry="1.2" fill="#3a8c86" transform="rotate(-24 974.9 87.1)"/><ellipse cx="975.0" cy="94.2" rx="4.6" ry="1.2" fill="#2a6d70" transform="rotate(-42 975.0 94.2)"/><ellipse cx="975.1" cy="120.2" rx="5.3" ry="1.2" fill="#1d4d58" transform="rotate(-129 975.1 120.2)"/><ellipse cx="970.1" cy="84.0" rx="4.3" ry="1.2" fill="#2a6d70" transform="rotate(-41 970.1 84.0)"/><ellipse cx="980.2" cy="112.2" rx="4.8" ry="1.2" fill="#1d4d58" transform="rotate(-30 980.2 112.2)"/><ellipse cx="982.5" cy="121.9" rx="5.3" ry="1.2" fill="#2a6d70" transform="rotate(-25 982.5 121.9)"/><ellipse cx="980.4" cy="118.0" rx="5.0" ry="1.2" fill="#5fb2a6" transform="rotate(-20 980.4 118.0)"/><ellipse cx="967.6" cy="78.9" rx="4.1" ry="1.2" fill="#3a8c86" transform="rotate(-155 967.6 78.9)"/><ellipse cx="978.5" cy="67.0" rx="3.9" ry="1.2" fill="#1d4d58" transform="rotate(-39 978.5 67.0)"/><ellipse cx="978.3" cy="82.6" rx="3.5" ry="1.1" fill="#2a6d70" transform="rotate(-84 978.3 82.6)"/><ellipse cx="983.7" cy="116.1" rx="5.0" ry="1.2" fill="#3a8c86" transform="rotate(-22 983.7 116.1)"/><ellipse cx="971.6" cy="91.7" rx="4.1" ry="1.2" fill="#3a8c86" transform="rotate(-29 971.6 91.7)"/><ellipse cx="973.9" cy="108.5" rx="4.8" ry="1.2" fill="#5fb2a6" transform="rotate(-49 973.9 108.5)"/><ellipse cx="978.9" cy="109.8" rx="5.0" ry="1.2" fill="#1d4d58" transform="rotate(-38 978.9 109.8)"/><ellipse cx="972.7" cy="102.4" rx="4.6" ry="1.2" fill="#1d4d58" transform="rotate(-53 972.7 102.4)"/><ellipse cx="967.5" cy="109.4" rx="4.8" ry="1.2" fill="#4fa39a" transform="rotate(-148 967.5 109.4)"/><ellipse cx="978.2" cy="75.9" rx="3.9" ry="1.2" fill="#1d4d58" transform="rotate(-136 978.2 75.9)"/><ellipse cx="975.8" cy="120.1" rx="5.3" ry="1.2" fill="#3a8c86" transform="rotate(-53 975.8 120.1)"/><ellipse cx="981.7" cy="114.4" rx="5.0" ry="1.2" fill="#2a6d70" transform="rotate(-10 981.7 114.4)"/><ellipse cx="982.1" cy="106.9" rx="4.8" ry="1.2" fill="#3a8c86" transform="rotate(-13 982.1 106.9)"/><ellipse cx="966.2" cy="58.8" rx="3.6" ry="1.2" fill="#5fb2a6" transform="rotate(-29 966.2 58.8)"/><ellipse cx="981.6" cy="64.1" rx="3.5" ry="1.1" fill="#4fa39a" transform="rotate(-78 981.6 64.1)"/><ellipse cx="979.3" cy="76.9" rx="4.1" ry="1.2" fill="#5fb2a6" transform="rotate(-14 979.3 76.9)"/><ellipse cx="983.7" cy="76.9" rx="3.9" ry="1.2" fill="#2a6d70" transform="rotate(-23 983.7 76.9)"/><ellipse cx="980.9" cy="103.0" rx="4.3" ry="1.2" fill="#3a8c86" transform="rotate(-13 980.9 103.0)"/><ellipse cx="990.6" cy="81.1" rx="3.6" ry="1.2" fill="#4fa39a" transform="rotate(-2 990.6 81.1)"/><ellipse cx="967.1" cy="71.2" rx="3.9" ry="1.2" fill="#4fa39a" transform="rotate(-164 967.1 71.2)"/><ellipse cx="964.7" cy="93.7" rx="4.6" ry="1.2" fill="#5fb2a6" transform="rotate(-159 964.7 93.7)"/><ellipse cx="977.2" cy="83.3" rx="4.1" ry="1.2" fill="#5fb2a6" transform="rotate(-140 977.2 83.3)"/><ellipse cx="962.6" cy="76.6" rx="4.1" ry="1.2" fill="#2a6d70" transform="rotate(-161 962.6 76.6)"/><ellipse cx="963.6" cy="85.2" rx="4.3" ry="1.2" fill="#1d4d58" transform="rotate(-161 963.6 85.2)"/><ellipse cx="973.1" cy="107.5" rx="4.6" ry="1.2" fill="#1d4d58" transform="rotate(-156 973.1 107.5)"/><ellipse cx="971.9" cy="61.5" rx="3.6" ry="1.2" fill="#1d4d58" transform="rotate(-47 971.9 61.5)"/><ellipse cx="971.1" cy="92.1" rx="4.6" ry="1.2" fill="#1d4d58" transform="rotate(-50 971.1 92.1)"/><ellipse cx="969.9" cy="118.8" rx="5.3" ry="1.2" fill="#3a8c86" transform="rotate(-143 969.9 118.8)"/><ellipse cx="966.4" cy="112.4" rx="5.0" ry="1.2" fill="#3a8c86" transform="rotate(-177 966.4 112.4)"/><ellipse cx="973.6" cy="112.5" rx="5.0" ry="1.2" fill="#1d4d58" transform="rotate(-143 973.6 112.5)"/><ellipse cx="971.9" cy="96.7" rx="4.3" ry="1.2" fill="#2a6d70" transform="rotate(-47 971.9 96.7)"/><ellipse cx="966.6" cy="103.8" rx="4.6" ry="1.2" fill="#5fb2a6" transform="rotate(-153 966.6 103.8)"/><ellipse cx="964.0" cy="79.7" rx="3.6" ry="1.2" fill="#4fa39a" transform="rotate(-149 964.0 79.7)"/><ellipse cx="977.6" cy="119.0" rx="5.3" ry="1.2" fill="#4fa39a" transform="rotate(-35 977.6 119.0)"/><ellipse cx="979.5" cy="94.0" rx="4.6" ry="1.2" fill="#3a8c86" transform="rotate(-17 979.5 94.0)"/><ellipse cx="978.5" cy="69.3" rx="3.6" ry="1.2" fill="#2a6d70" transform="rotate(-151 978.5 69.3)"/><ellipse cx="970.1" cy="85.2" rx="3.9" ry="1.2" fill="#4fa39a" transform="rotate(-39 970.1 85.2)"/><ellipse cx="976.1" cy="53.0" rx="3.5" ry="1.1" fill="#3a8c86" transform="rotate(-88 976.1 53.0)"/><ellipse cx="980.1" cy="102.2" rx="4.6" ry="1.2" fill="#4fa39a" transform="rotate(-121 980.1 102.2)"/><ellipse cx="980.6" cy="86.4" rx="3.6" ry="1.2" fill="#1d4d58" transform="rotate(-37 980.6 86.4)"/><ellipse cx="962.9" cy="53.0" rx="3.5" ry="1.1" fill="#1d4d58" transform="rotate(-112 962.9 53.0)"/><ellipse cx="971.5" cy="122.8" rx="5.3" ry="1.2" fill="#3a8c86" transform="rotate(-155 971.5 122.8)"/><ellipse cx="964.2" cy="86.9" rx="3.9" ry="1.2" fill="#3a8c86" transform="rotate(-172 964.2 86.9)"/><ellipse cx="967.0" cy="66.6" rx="3.9" ry="1.2" fill="#4fa39a" transform="rotate(-47 967.0 66.6)"/><ellipse cx="972.4" cy="92.7" rx="4.6" ry="1.2" fill="#2a6d70" transform="rotate(-142 972.4 92.7)"/><ellipse cx="988.2" cy="75.2" rx="3.5" ry="1.1" fill="#5fb2a6" transform="rotate(-66 988.2 75.2)"/><ellipse cx="968.1" cy="74.9" rx="4.1" ry="1.2" fill="#3a8c86" transform="rotate(-54 968.1 74.9)"/><ellipse cx="973.9" cy="78.3" rx="4.1" ry="1.2" fill="#4fa39a" transform="rotate(-34 973.9 78.3)"/><ellipse cx="982.8" cy="91.5" rx="4.3" ry="1.2" fill="#5fb2a6" transform="rotate(-24 982.8 91.5)"/><ellipse cx="980.6" cy="107.6" rx="4.6" ry="1.2" fill="#2a6d70" transform="rotate(-21 980.6 107.6)"/><ellipse cx="988.4" cy="92.7" rx="4.1" ry="1.2" fill="#2a6d70" transform="rotate(-12 988.4 92.7)"/><ellipse cx="972.7" cy="119.8" rx="5.3" ry="1.2" fill="#5fb2a6" transform="rotate(-144 972.7 119.8)"/><ellipse cx="969.5" cy="56.7" rx="3.5" ry="1.1" fill="#2a6d70" transform="rotate(-100 969.5 56.7)"/><ellipse cx="974.1" cy="97.5" rx="4.1" ry="1.2" fill="#3a8c86" transform="rotate(-160 974.1 97.5)"/><ellipse cx="987.2" cy="98.6" rx="4.3" ry="1.2" fill="#1d4d58" transform="rotate(-14 987.2 98.6)"/><ellipse cx="977.0" cy="114.0" rx="5.0" ry="1.2" fill="#2a6d70" transform="rotate(-123 977.0 114.0)"/><ellipse cx="975.2" cy="98.2" rx="4.6" ry="1.2" fill="#3a8c86" transform="rotate(-147 975.2 98.2)"/><ellipse cx="979.5" cy="102.4" rx="4.8" ry="1.2" fill="#2a6d70" transform="rotate(-20 979.5 102.4)"/><ellipse cx="973.4" cy="108.8" rx="5.0" ry="1.2" fill="#4fa39a" transform="rotate(-56 973.4 108.8)"/><ellipse cx="983.5" cy="85.0" rx="4.1" ry="1.2" fill="#1d4d58" transform="rotate(-10 983.5 85.0)"/><ellipse cx="979.3" cy="85.2" rx="4.3" ry="1.2" fill="#4fa39a" transform="rotate(-20 979.3 85.2)"/><ellipse cx="971.7" cy="109.9" rx="5.0" ry="1.2" fill="#5fb2a6" transform="rotate(-144 971.7 109.9)"/><ellipse cx="960.6" cy="59.1" rx="3.6" ry="1.2" fill="#4fa39a" transform="rotate(-157 960.6 59.1)"/><ellipse cx="980.4" cy="123.6" rx="5.3" ry="1.2" fill="#4fa39a" transform="rotate(-15 980.4 123.6)"/><ellipse cx="964.9" cy="92.7" rx="4.1" ry="1.2" fill="#2a6d70" transform="rotate(-168 964.9 92.7)"/><ellipse cx="983.6" cy="85.2" rx="3.9" ry="1.2" fill="#2a6d70" transform="rotate(-141 983.6 85.2)"/><ellipse cx="982.5" cy="90.7" rx="4.1" ry="1.2" fill="#1d4d58" transform="rotate(-130 982.5 90.7)"/><ellipse cx="972.6" cy="76.1" rx="4.1" ry="1.2" fill="#4fa39a" transform="rotate(-153 972.6 76.1)"/><ellipse cx="980.6" cy="91.6" rx="3.9" ry="1.2" fill="#5fb2a6" transform="rotate(-34 980.6 91.6)"/><ellipse cx="965.8" cy="102.0" rx="4.8" ry="1.2" fill="#4fa39a" transform="rotate(-154 965.8 102.0)"/><ellipse cx="968.9" cy="111.8" rx="5.0" ry="1.2" fill="#4fa39a" transform="rotate(-158 968.9 111.8)"/><ellipse cx="966.8" cy="62.8" rx="3.6" ry="1.2" fill="#5fb2a6" transform="rotate(-161 966.8 62.8)"/><ellipse cx="966.2" cy="75.2" rx="3.5" ry="1.1" fill="#1d4d58" transform="rotate(-106 966.2 75.2)"/><ellipse cx="973.1" cy="101.3" rx="4.8" ry="1.2" fill="#5fb2a6" transform="rotate(-37 973.1 101.3)"/><ellipse cx="986.2" cy="105.0" rx="4.6" ry="1.2" fill="#5fb2a6" transform="rotate(-9 986.2 105.0)"/><ellipse cx="978.9" cy="59.2" rx="3.6" ry="1.2" fill="#2a6d70" transform="rotate(-22 978.9 59.2)"/><ellipse cx="968.0" cy="118.9" rx="5.3" ry="1.2" fill="#2a6d70" transform="rotate(-150 968.0 118.9)"/><ellipse cx="975.8" cy="115.3" rx="5.0" ry="1.2" fill="#4fa39a" transform="rotate(-33 975.8 115.3)"/><ellipse cx="984.0" cy="69.3" rx="3.6" ry="1.2" fill="#3a8c86" transform="rotate(-28 984.0 69.3)"/><ellipse cx="968.3" cy="95.4" rx="4.6" ry="1.2" fill="#1d4d58" transform="rotate(-157 968.3 95.4)"/><path d="M964,130 L986,130 L985,152 Q983,160 975,160 Q967,160 965,152 Z" fill="#f1f5f5"/><path d="M672,78 L651,155 M672,78 L693,155" stroke="#e2b585" stroke-width="1.8"/><path d="M672,78 L672,167" stroke="#e2b585" stroke-width="1.8"/><rect x="670.5" y="70" width="3" height="9" fill="#2b2b30"/><circle cx="660" cy="118" r="1.2" fill="#2b2b30"/><circle cx="684" cy="118" r="1.2" fill="#2b2b30"/><rect x="670.8" y="122" width="2.4" height="2" fill="#2b2b30"/><path d="M659,50 L685,50 L690,71 L654,71 Z" fill="#f1f4f4"/><rect x="654" y="70" width="36" height="1.5" fill="#dfe5e6"/><path d="M775,95 L785,160 M895,95 L905,168" stroke="#33333b" stroke-width="1.8"/><rect x="726" y="50.5" width="42" height="6.5" fill="#1d2748"/><rect x="727" y="51.5" width="8" height="4.5" fill="#f4f6f8"/><rect x="728.5" y="52.5" width="4" height="2.5" fill="#4a5068"/><rect x="738.5" y="51.5" width="28" height="4.5" fill="#f4f6f8"/><rect x="733" y="57.5" width="42" height="6.5" fill="#1d2748"/><rect x="734" y="58.5" width="8" height="4.5" fill="#f4f6f8"/><rect x="735.5" y="59.5" width="4" height="2.5" fill="#4a5068"/><rect x="745.5" y="58.5" width="28" height="4.5" fill="#f4f6f8"/><rect x="728" y="64" width="42" height="6.5" fill="#1d2748"/><rect x="729" y="65" width="8" height="4.5" fill="#f4f6f8"/><rect x="730.5" y="66" width="4" height="2.5" fill="#4a5068"/><rect x="740.5" y="65" width="28" height="4.5" fill="#f4f6f8"/><rect x="729" y="70.5" width="42" height="6.5" fill="#1d2748"/><rect x="730" y="71.5" width="8" height="4.5" fill="#f4f6f8"/><rect x="731.5" y="72.5" width="4" height="2.5" fill="#4a5068"/><rect x="741.5" y="71.5" width="28" height="4.5" fill="#f4f6f8"/><rect x="725" y="77.5" width="42" height="6.5" fill="#1d2748"/><rect x="726" y="78.5" width="8" height="4.5" fill="#f4f6f8"/><rect x="727.5" y="79.5" width="4" height="2.5" fill="#4a5068"/><rect x="737.5" y="78.5" width="28" height="4.5" fill="#f4f6f8"/><rect x="730" y="84" width="42" height="6.5" fill="#1d2748"/><rect x="731" y="85" width="8" height="4.5" fill="#f4f6f8"/><rect x="732.5" y="86" width="4" height="2.5" fill="#4a5068"/><rect x="742.5" y="85" width="28" height="4.5" fill="#f4f6f8"/><polygon points="759,58 796,58 808,90 771,90" fill="#a9a9ab"/><ellipse cx="780" cy="74" rx="3" ry="2.6" fill="#ececec"/><rect x="770" y="89" width="66" height="2.5" fill="#8c8c8e"/><path d="M870,44 L913,44 Q917,44 917,48 L917,128 Q917,136 909,136 L870,136 Q866,136 866,128 L866,48 Q866,44 870,44Z" fill="#2f3036"/><path d="M905,44 L913,44 Q917,44 917,48 L917,128 Q917,136 909,136 L904,136Z" fill="#26272c"/><path d="M828,124 L905,124 Q912,124 912,130 L912,136 L828,136 Z" fill="#2a2b30"/><rect x="871" y="136" width="3" height="26" fill="#cfd2d6"/><path d="M872,162 L840,174 M872,162 L904,174 M872,162 L872,178 M872,162 L855,170 M872,162 L890,170" stroke="#1c1c20" stroke-width="2.2"/><circle cx="839" cy="176" r="2" fill="#1c1c20"/><circle cx="905" cy="176" r="2" fill="#1c1c20"/><circle cx="872" cy="180" r="2" fill="#1c1c20"/><circle cx="854" cy="172" r="2" fill="#1c1c20"/><circle cx="891" cy="172" r="2" fill="#1c1c20"/><path d="M838,102 L885,102 Q890,114 880,124 L850,127 L836,128 L818,126 Q812,120 816,113 Q822,105 838,102Z" fill="#253252"/><path d="M815,116 L837,121 L838,173 L819,173 Z" fill="#253252"/><path d="M853,118 L876,117 L873,173 L856,173 Z" fill="#222e4a"/><path d="M820,124 L836,126" stroke="#1b2640" stroke-width="1"/><path d="M808,182 L809,177 L820,172 L838,172 L839,182Z" fill="#3d1f1c"/><path d="M853,182 L855,172 L872,172 L876,182Z" fill="#3d1f1c"/><path d="M835,62 L868,62 Q885,66 887,95 L885,103 L838,103 L836,95 L820,92 Q816,86 822,76 Q828,64 835,62Z" fill="#e6f1fb"/><path d="M852,63 L860,63 L863,72 L856,68 L849,72Z" fill="#d3e4f3"/><path d="M853,68 L858,68 L857,72 L859,110 L855.5,116 L852,110 L854,72Z" fill="#1b2a45"/><rect x="840" y="101" width="45" height="2.5" fill="#9aa0a8"/><path d="M838,84 Q848,80 855,86 Q852,91 842,91 Z" fill="#fbd9c4"/><path d="M822,78 Q826,66 836,60 L841,66 L832,80Z" fill="#e6f1fb"/><ellipse cx="848" cy="48" rx="11" ry="13" fill="#fde2cf"/><path d="M836,40 Q836,26 850,27 Q862,28 861,40 L860,50 Q857,44 856,38 Q848,40 840,38 Q838,44 837,48Z" fill="#2e1918"/><path d="M834,46 Q832,56 838,60 L843,62 L841,52Z" fill="#f7cdb4"/><circle cx="843" cy="45" r="1.3" fill="#2b1a18"/><circle cx="851" cy="45" r="1.3" fill="#2b1a18"/><path d="M845,56 Q848,55 850,56" stroke="#b26a5a" stroke-width="0.8" fill="none"/><rect x="845" y="59" width="7" height="5" fill="#fde2cf"/><rect x="716" y="91" width="184" height="5" rx="2" fill="#6c5f57"/><path d="M727,96 L715,182 M843,96 L832,172 M887,96 L900,176" stroke="#33333b" stroke-width="2"/></svg>
<div class="fl" style="left:50.5px;top:234.6px"><svg width="23" height="23" viewBox="0 0 24 24"><rect x="0" y="0" width="24" height="24" fill="#e84a5f"/><rect x="10" y="5.5" width="4" height="13" fill="#f5f5f5"/><rect x="5.5" y="10" width="13" height="4" fill="#f5f5f5"/></svg></div><div class="nm" style="left:82.3px;top:235.05px">Switzerland</div><div class="tr" style="left:263px;top:237.9px"><div class="or" style="width:7.4px"></div><div class="vl" style="left:15.67px;top:0.71px;font-size:18px">14 yrs 3 mos.</div></div><div class="fl" style="left:50.5px;top:264.6px"><svg width="23" height="23" viewBox="0 0 24 24"><rect x="0" y="0" width="24" height="12" fill="#e84a5f"/><rect x="0" y="12" width="24" height="12" fill="#f5f5f5"/><circle cx="7" cy="6" r="3" fill="#f5f5f5"/><circle cx="8.2" cy="6" r="2.6" fill="#e84a5f"/><circle cx="10" cy="4.5" r="0.6" fill="#f5f5f5"/><circle cx="11.3" cy="6.5" r="0.6" fill="#f5f5f5"/></svg></div><div class="nm" style="left:82.3px;top:265.05px">Singapore</div><div class="tr" style="left:263px;top:267.92px"><div class="or" style="width:8.7px"></div><div class="vl" style="left:17.05px;top:0.83px;font-size:18px">16 yrs 11 mos.</div></div><div class="fl" style="left:50.5px;top:294.6px"><svg width="23" height="23" viewBox="0 0 24 24"><rect x="0" y="0" width="24" height="8" fill="#d24b55"/><rect x="0" y="8" width="24" height="8" fill="#f5f5f5"/><rect x="0" y="16" width="24" height="8" fill="#4b92d4"/></svg></div><div class="nm" style="left:82.3px;top:295.05px">Luxembourg</div><div class="tr" style="left:263px;top:297.94px"><div class="or" style="width:9.0px"></div><div class="vl" style="left:17.26px;top:0.95px;font-size:18px">17 yrs 4 mos.</div></div><div class="fl" style="left:50.5px;top:324.6px"><svg width="23" height="23" viewBox="0 0 24 24"><rect x="0" y="0.0" width="24" height="2.7166666666666663" fill="#e84a5f"/><rect x="0" y="2.6666666666666665" width="24" height="2.7166666666666663" fill="#f5f5f5"/><rect x="0" y="5.333333333333333" width="24" height="2.7166666666666663" fill="#e84a5f"/><rect x="0" y="8.0" width="24" height="2.7166666666666663" fill="#f5f5f5"/><rect x="0" y="10.666666666666666" width="24" height="2.7166666666666663" fill="#e84a5f"/><rect x="0" y="13.333333333333332" width="24" height="2.7166666666666663" fill="#f5f5f5"/><rect x="0" y="16.0" width="24" height="2.7166666666666663" fill="#e84a5f"/><rect x="0" y="18.666666666666664" width="24" height="2.7166666666666663" fill="#f5f5f5"/><rect x="0" y="21.333333333333332" width="24" height="2.7166666666666663" fill="#e84a5f"/><rect x="0" y="0" width="12" height="13.3" fill="#2f5fa6"/><circle cx="2" cy="2" r="0.7" fill="#f5f5f5"/><circle cx="2" cy="5" r="0.7" fill="#f5f5f5"/><circle cx="2" cy="8" r="0.7" fill="#f5f5f5"/><circle cx="2" cy="11" r="0.7" fill="#f5f5f5"/><circle cx="5" cy="2" r="0.7" fill="#f5f5f5"/><circle cx="5" cy="5" r="0.7" fill="#f5f5f5"/><circle cx="5" cy="8" r="0.7" fill="#f5f5f5"/><circle cx="5" cy="11" r="0.7" fill="#f5f5f5"/><circle cx="8" cy="2" r="0.7" fill="#f5f5f5"/><circle cx="8" cy="5" r="0.7" fill="#f5f5f5"/><circle cx="8" cy="8" r="0.7" fill="#f5f5f5"/><circle cx="8" cy="11" r="0.7" fill="#f5f5f5"/><circle cx="11" cy="2" r="0.7" fill="#f5f5f5"/><circle cx="11" cy="5" r="0.7" fill="#f5f5f5"/><circle cx="11" cy="8" r="0.7" fill="#f5f5f5"/><circle cx="11" cy="11" r="0.7" fill="#f5f5f5"/></svg></div><div class="nm" style="left:82.3px;top:325.05px">United States</div><div class="tr" style="left:263px;top:327.96000000000004px"><div class="or" style="width:10.3px"></div><div class="vl" style="left:18.55px;top:1.07px;font-size:18px">19 yrs 10 mos.</div></div><div class="fl" style="left:50.5px;top:354.6px"><svg width="23" height="23" viewBox="0 0 24 24"><rect x="0" y="0" width="24" height="24" fill="#2f5fa6"/><rect x="0" y="9.0" width="24" height="6" fill="#f5f5f5"/><rect x="6.0" y="0" width="6" height="24" fill="#f5f5f5"/><rect x="0" y="10.5" width="24" height="3" fill="#e84a5f"/><rect x="7.5" y="0" width="3" height="24" fill="#e84a5f"/></svg></div><div class="nm" style="left:82.3px;top:355.05px">Iceland</div><div class="tr" style="left:263px;top:357.98px"><div class="or" style="width:10.8px"></div><div class="vl" style="left:19.11px;top:0.19px;font-size:18px">20 yrs 11 mos.</div></div><div class="fl" style="left:50.5px;top:384.6px"><svg width="23" height="23" viewBox="0 0 24 24"><rect x="0" y="0" width="24" height="24" fill="#f5f5f5"/><polygon points="9,0 24,0 24,24 9,24 6,22 9,20 6,18 9,16 6,14 9,12 6,10 9,8 6,6 9,4 6,2" fill="#a8436e"/></svg></div><div class="nm" style="left:82.3px;top:385.05px">Qatar</div><div class="tr" style="left:263px;top:388.0px"><div class="or" style="width:11.0px"></div><div class="vl" style="left:19.29px;top:0.31px;font-size:18px">21 yrs 3 mos.</div></div><div class="fl" style="left:50.5px;top:414.6px"><svg width="23" height="23" viewBox="0 0 24 24"><rect x="0" y="0" width="24" height="8" fill="#74b14a"/><rect x="0" y="8" width="24" height="8" fill="#f5f5f5"/><rect x="0" y="16" width="24" height="8" fill="#3a3d42"/><rect x="0" y="0" width="8" height="24" fill="#e84a5f"/></svg></div><div class="nm" style="left:82.3px;top:415.05px">UAE</div><div class="tr" style="left:263px;top:418.02px"><div class="or" style="width:12.3px"></div><div class="vl" style="left:20.58px;top:0.43px;font-size:18px">23 yrs 9 mos.</div></div><div class="fl" style="left:50.5px;top:444.6px"><svg width="23" height="23" viewBox="0 0 24 24"><rect x="0" y="0" width="24" height="24" fill="#2f5fa6"/><rect x="0" y="0" width="12" height="12" fill="#2f5fa6"/><path d="M0,0 L12,12 M12,0 L0,12" stroke="#f5f5f5" stroke-width="2.4000000000000004"/><path d="M0,0 L12,12 M12,0 L0,12" stroke="#e84a5f" stroke-width="0.8400000000000001"/><rect x="0" y="4.5600000000000005" width="12" height="2.88" fill="#f5f5f5"/><rect x="4.5600000000000005" y="0" width="2.88" height="12" fill="#f5f5f5"/><rect x="0" y="5.16" width="12" height="1.6800000000000002" fill="#e84a5f"/><rect x="5.16" y="0" width="1.6800000000000002" height="12" fill="#e84a5f"/><polygon points="6.00,15.80 6.54,17.25 8.09,17.32 6.88,18.29 7.29,19.78 6.00,18.92 4.71,19.78 5.12,18.29 3.91,17.32 5.46,17.25" fill="#f5f5f5"/><polygon points="17.00,6.50 17.37,7.49 18.43,7.54 17.60,8.19 17.88,9.21 17.00,8.63 16.12,9.21 16.40,8.19 15.57,7.54 16.63,7.49" fill="#f5f5f5"/><polygon points="20.00,11.50 20.37,12.49 21.43,12.54 20.60,13.19 20.88,14.21 20.00,13.63 19.12,14.21 19.40,13.19 18.57,12.54 19.63,12.49" fill="#f5f5f5"/><polygon points="15.00,13.80 15.30,14.59 16.14,14.63 15.48,15.16 15.71,15.97 15.00,15.50 14.29,15.97 14.52,15.16 13.86,14.63 14.70,14.59" fill="#f5f5f5"/><polygon points="18.00,17.50 18.37,18.49 19.43,18.54 18.60,19.19 18.88,20.21 18.00,19.63 17.12,20.21 17.40,19.19 16.57,18.54 17.63,18.49" fill="#f5f5f5"/></svg></div><div class="nm" style="left:82.3px;top:445.05px">Australia</div><div class="tr" style="left:263px;top:448.03999999999996px"><div class="or" style="width:12.5px"></div><div class="vl" style="left:20.84px;top:0.55px;font-size:18px">24 yrs 3 mos.</div></div><div class="fl" style="left:50.5px;top:474.6px"><svg width="23" height="23" viewBox="0 0 24 24"><rect x="0" y="0" width="24" height="24" fill="#e84a5f"/><rect x="0" y="10.0" width="24" height="4" fill="#f5f5f5"/><rect x="7.0" y="0" width="4" height="24" fill="#f5f5f5"/></svg></div><div class="nm" style="left:82.3px;top:475.05px">Denmark</div><div class="tr" style="left:263px;top:478.06px"><div class="or" style="width:12.7px"></div><div class="vl" style="left:20.97px;top:0.67px;font-size:18px">24 yrs 6 mos.</div></div><div class="fl" style="left:50.5px;top:504.6px"><svg width="23" height="23" viewBox="0 0 24 24"><rect x="0" y="0" width="24" height="8" fill="#e84a5f"/><rect x="0" y="8" width="24" height="8" fill="#f5f5f5"/><rect x="0" y="16" width="24" height="8" fill="#4b92d4"/></svg></div><div class="nm" style="left:82.3px;top:505.05px">Netherlands</div><div class="tr" style="left:263px;top:508.08000000000004px"><div class="or" style="width:12.8px"></div><div class="vl" style="left:21.10px;top:0.79px;font-size:18px">24 yrs 9 mos.</div></div><div class="fl" style="left:50.5px;top:534.6px"><svg width="23" height="23" viewBox="0 0 24 24"><rect x="0" y="0" width="24" height="24" fill="#e84a5f"/><rect x="0" y="9.0" width="24" height="6" fill="#f5f5f5"/><rect x="6.0" y="0" width="6" height="24" fill="#f5f5f5"/><rect x="0" y="10.5" width="24" height="3" fill="#3d7fc4"/><rect x="7.5" y="0" width="3" height="24" fill="#3d7fc4"/></svg></div><div class="nm" style="left:82.3px;top:535.05px">Norway</div><div class="tr" style="left:263px;top:538.1px"><div class="or" style="width:13.1px"></div><div class="vl" style="left:21.35px;top:0.91px;font-size:18px">25 yrs 3 mos.</div></div><div class="fl" style="left:50.5px;top:564.6px"><svg width="23" height="23" viewBox="0 0 24 24"><rect x="0" y="0" width="6" height="24" fill="#e84a5f"/><rect x="6" y="0" width="12" height="24" fill="#f5f5f5"/><rect x="18" y="0" width="6" height="24" fill="#e84a5f"/><polygon points="12,6 13,8.5 15,8 14,11 16,11 14,14 12.5,13.5 12.5,17 11.5,17 11.5,13.5 10,14 8,11 10,11 9,8 11,8.5" fill="#e84a5f"/></svg></div><div class="nm" style="left:82.3px;top:565.05px">Canada</div><div class="tr" style="left:263px;top:568.12px"><div class="or" style="width:14.4px"></div><div class="vl" style="left:22.69px;top:1.03px;font-size:18px">27 yrs 10 mos.</div></div><div class="fl" style="left:50.5px;top:594.6px"><svg width="23" height="23" viewBox="0 0 24 24"><rect x="0" y="0" width="24" height="24" fill="#2f5fa6"/><rect x="0" y="0" width="12" height="12" fill="#2f5fa6"/><path d="M0,0 L12,12 M12,0 L0,12" stroke="#f5f5f5" stroke-width="2.4000000000000004"/><path d="M0,0 L12,12 M12,0 L0,12" stroke="#e84a5f" stroke-width="0.8400000000000001"/><rect x="0" y="4.5600000000000005" width="12" height="2.88" fill="#f5f5f5"/><rect x="4.5600000000000005" y="0" width="2.88" height="12" fill="#f5f5f5"/><rect x="0" y="5.16" width="12" height="1.6800000000000002" fill="#e84a5f"/><rect x="5.16" y="0" width="1.6800000000000002" height="12" fill="#e84a5f"/><polygon points="17.00,5.40 17.39,6.46 18.52,6.51 17.64,7.21 17.94,8.29 17.00,7.67 16.06,8.29 16.36,7.21 15.48,6.51 16.61,6.46" fill="#e84a5f"/><polygon points="20.00,9.40 20.39,10.46 21.52,10.51 20.64,11.21 20.94,12.29 20.00,11.67 19.06,12.29 19.36,11.21 18.48,10.51 19.61,10.46" fill="#e84a5f"/><polygon points="15.00,10.60 15.35,11.52 16.33,11.57 15.56,12.18 15.82,13.13 15.00,12.59 14.18,13.13 14.44,12.18 13.67,11.57 14.65,11.52" fill="#e84a5f"/><polygon points="17.00,16.20 17.44,17.39 18.71,17.44 17.72,18.23 18.06,19.46 17.00,18.76 15.94,19.46 16.28,18.23 15.29,17.44 16.56,17.39" fill="#e84a5f"/></svg></div><div class="nm" style="left:82.3px;top:595.05px">New Zealand</div><div class="tr" style="left:263px;top:598.14px"><div class="or" style="width:14.6px"></div><div class="vl" style="left:22.95px;top:1.15px;font-size:18px">28 yrs 4 mos.</div></div><div class="fl" style="left:50.5px;top:624.6px"><svg width="23" height="23" viewBox="0 0 24 24"><rect x="0" y="0" width="24" height="8" fill="#3a3d42"/><rect x="0" y="8" width="24" height="8" fill="#e84a5f"/><rect x="0" y="16" width="24" height="8" fill="#fdd835"/></svg></div><div class="nm" style="left:82.3px;top:625.05px">Germany</div><div class="tr" style="left:263px;top:628.16px"><div class="or" style="width:14.8px"></div><div class="vl" style="left:23.12px;top:0.27px;font-size:18px">28 yrs 8 mos.</div></div><div class="fl" style="left:50.5px;top:654.6px"><svg width="23" height="23" viewBox="0 0 24 24"><rect x="0" y="0" width="8" height="24" fill="#74b14a"/><rect x="8" y="0" width="8" height="24" fill="#f5f5f5"/><rect x="16" y="0" width="8" height="24" fill="#ff8c3a"/></svg></div><div class="nm" style="left:82.3px;top:655.05px">Ireland</div><div class="tr" style="left:263px;top:658.18px"><div class="or" style="width:15.1px"></div><div class="vl" style="left:23.38px;top:0.39px;font-size:18px">29 yrs 2 mos.</div></div><div class="fl" style="left:50.5px;top:684.6px"><svg width="23" height="23" viewBox="0 0 24 24"><rect x="0" y="0" width="24" height="24" fill="#e84a5f"/><ellipse cx="12" cy="8" rx="2" ry="3.5" fill="#f5f5f5" transform="rotate(0 12 12)"/><ellipse cx="12" cy="8" rx="2" ry="3.5" fill="#f5f5f5" transform="rotate(72 12 12)"/><ellipse cx="12" cy="8" rx="2" ry="3.5" fill="#f5f5f5" transform="rotate(144 12 12)"/><ellipse cx="12" cy="8" rx="2" ry="3.5" fill="#f5f5f5" transform="rotate(216 12 12)"/><ellipse cx="12" cy="8" rx="2" ry="3.5" fill="#f5f5f5" transform="rotate(288 12 12)"/></svg></div><div class="nm" style="left:82.3px;top:685.05px">Hong Kong</div><div class="tr" style="left:263px;top:688.2px"><div class="or" style="width:15.2px"></div><div class="vl" style="left:23.51px;top:0.51px;font-size:18px">29 yrs 5 mos.</div></div><div class="fl" style="left:50.5px;top:714.6px"><svg width="23" height="23" viewBox="0 0 24 24"><rect x="0" y="0" width="24" height="24" fill="#2f5fa6"/><path d="M0,0 L24,24 M24,0 L0,24" stroke="#f5f5f5" stroke-width="5"/><path d="M0,0 L24,24 M24,0 L0,24" stroke="#e84a5f" stroke-width="1.6"/><rect x="0" y="8.0" width="24" height="8" fill="#f5f5f5"/><rect x="8.0" y="0" width="8" height="24" fill="#f5f5f5"/><rect x="0" y="9.75" width="24" height="4.5" fill="#e84a5f"/><rect x="9.75" y="0" width="4.5" height="24" fill="#e84a5f"/></svg></div><div class="nm" style="left:82.3px;top:715.05px">United Kingdom</div><div class="tr" style="left:263px;top:718.22px"><div class="or" style="width:15.4px"></div><div class="vl" style="left:23.68px;top:0.63px;font-size:18px">29 yrs 9 mos.</div></div><div class="fl" style="left:50.5px;top:744.6px"><svg width="23" height="23" viewBox="0 0 24 24"><rect x="0" y="0" width="24" height="24" fill="#f5f5f5"/><rect x="0" y="9.5" width="24" height="5" fill="#4b92d4"/><rect x="6.5" y="0" width="5" height="24" fill="#4b92d4"/></svg></div><div class="nm" style="left:82.3px;top:745.05px">Finland</div><div class="tr" style="left:263px;top:748.24px"><div class="or" style="width:15.8px"></div><div class="vl" style="left:24.07px;top:0.75px;font-size:18px">30 yrs 6 mos.</div></div><div class="fl" style="left:50.5px;top:774.6px"><svg width="23" height="23" viewBox="0 0 24 24"><rect x="0" y="0" width="24" height="24" fill="#3d7fc4"/><rect x="0" y="9.75" width="24" height="4.5" fill="#fdd835"/><rect x="6.75" y="0" width="4.5" height="24" fill="#fdd835"/></svg></div><div class="nm" style="left:82.3px;top:775.05px">Sweden</div><div class="tr" style="left:263px;top:778.26px"><div class="or" style="width:16.3px"></div><div class="vl" style="left:24.59px;top:0.87px;font-size:18px">31 yrs 6 mos.</div></div><div class="fl" style="left:50.5px;top:804.6px"><svg width="23" height="23" viewBox="0 0 24 24"><rect x="0" y="0" width="24" height="8" fill="#e84a5f"/><rect x="0" y="8" width="24" height="8" fill="#f5f5f5"/><rect x="0" y="16" width="24" height="8" fill="#e84a5f"/></svg></div><div class="nm" style="left:82.3px;top:805.05px">Austria</div><div class="tr" style="left:263px;top:808.28px"><div class="or" style="width:16.6px"></div><div class="vl" style="left:24.93px;top:0.99px;font-size:18px">32 yrs 2 mos.</div></div><div class="fl" style="left:50.5px;top:834.6px"><svg width="23" height="23" viewBox="0 0 24 24"><rect x="0" y="0" width="8" height="24" fill="#3a3d42"/><rect x="8" y="0" width="8" height="24" fill="#fdd835"/><rect x="16" y="0" width="8" height="24" fill="#e84a5f"/></svg></div><div class="nm" style="left:82.3px;top:835.05px">Belgium</div><div class="tr" style="left:263px;top:838.3px"><div class="or" style="width:16.9px"></div><div class="vl" style="left:25.19px;top:1.11px;font-size:18px">32 yrs 8 mos.</div></div><div class="fl" style="left:50.5px;top:864.6px"><svg width="23" height="23" viewBox="0 0 24 24"><rect x="0" y="0" width="24" height="24" fill="#f5f5f5"/><rect x="0" y="3.5" width="24" height="2.8" fill="#4b92d4"/><rect x="0" y="17.7" width="24" height="2.8" fill="#4b92d4"/><path d="M12,8.3 L15.2,13.8 L8.8,13.8 Z M12,15.7 L8.8,10.2 L15.2,10.2 Z" fill="none" stroke="#4b92d4" stroke-width="1"/></svg></div><div class="nm" style="left:82.3px;top:865.05px">Israel</div><div class="tr" style="left:263px;top:868.3199999999999px"><div class="or" style="width:16.9px"></div><div class="vl" style="left:25.23px;top:0.23px;font-size:18px">32 yrs 9 mos.</div></div><div class="fl" style="left:50.5px;top:894.6px"><svg width="23" height="23" viewBox="0 0 24 24"><rect x="0" y="0" width="24" height="24" fill="#f5f5f5"/><circle cx="12" cy="12" r="5" fill="#e84a5f"/></svg></div><div class="nm" style="left:82.3px;top:895.05px">Japan</div><div class="tr" style="left:263px;top:898.3399999999999px"><div class="or" style="width:17.3px"></div><div class="vl" style="left:25.62px;top:0.35px;font-size:18px">33 yrs 6 mos.</div></div><div class="fl" style="left:50.5px;top:924.6px"><svg width="23" height="23" viewBox="0 0 24 24"><rect x="0" y="0" width="8" height="24" fill="#4b92d4"/><rect x="8" y="0" width="8" height="24" fill="#f5f5f5"/><rect x="16" y="0" width="8" height="24" fill="#e84a5f"/></svg></div><div class="nm" style="left:82.3px;top:925.05px">France</div><div class="tr" style="left:263px;top:928.36px"><div class="or" style="width:17.6px"></div><div class="vl" style="left:25.92px;top:0.47px;font-size:18px">34 yrs 1 mo.</div></div><div class="fl" style="left:50.5px;top:954.6px"><svg width="23" height="23" viewBox="0 0 24 24"><rect x="0" y="0" width="24" height="24" fill="#f5f5f5"/><path d="M7,12 A5,5 0 0 1 17,12 A2.5,2.5 0 0 1 12,12 A2.5,2.5 0 0 0 7,12Z" fill="#e84a5f"/><path d="M7,12 A5,5 0 0 0 17,12 A2.5,2.5 0 0 0 12,12 A2.5,2.5 0 0 1 7,12Z" fill="#2f5fa6"/><rect x="-2.5" y="-1.6" width="5" height="3.2" fill="#3a3d42" transform="translate(4.5 5) rotate(-55)"/><rect x="-2.5" y="-1.6" width="5" height="3.2" fill="#3a3d42" transform="translate(19.5 5) rotate(55)"/><rect x="-2.5" y="-1.6" width="5" height="3.2" fill="#3a3d42" transform="translate(4.5 19) rotate(55)"/><rect x="-2.5" y="-1.6" width="5" height="3.2" fill="#3a3d42" transform="translate(19.5 19) rotate(-55)"/></svg></div><div class="nm" style="left:82.3px;top:955.05px">South Korea</div><div class="tr" style="left:263px;top:958.38px"><div class="or" style="width:18.9px"></div><div class="vl" style="left:27.21px;top:0.59px;font-size:18px">36 yrs 7 mos.</div></div><div class="fl" style="left:50.5px;top:984.6px"><svg width="23" height="23" viewBox="0 0 24 24"><rect x="0" y="0" width="24" height="24" fill="#e84a5f"/><rect x="8" y="0" width="16" height="8" fill="#f5f5f5"/><rect x="8" y="16" width="16" height="8" fill="#5e9a3c"/><path d="M3,3 L6,6 M6,3 L3,6" stroke="#f5f5f5" stroke-width="1"/></svg></div><div class="nm" style="left:82.3px;top:985.05px">Oman</div><div class="tr" style="left:263px;top:988.4px"><div class="or" style="width:19.9px"></div><div class="vl" style="left:28.20px;top:0.71px;font-size:18px">38 yrs 6 mos.</div></div><div class="fl" style="left:50.5px;top:1014.6px"><svg width="23" height="23" viewBox="0 0 24 24"><rect x="0" y="0" width="24" height="8" fill="#5e9a3c"/><rect x="0" y="8" width="24" height="8" fill="#f5f5f5"/><rect x="0" y="16" width="24" height="8" fill="#e84a5f"/><polygon points="0,0 7,8 7,16 0,24" fill="#3a3d42"/></svg></div><div class="nm" style="left:82.3px;top:1015.05px">Kuwait</div><div class="tr" style="left:263px;top:1018.42px"><div class="or" style="width:21.3px"></div><div class="vl" style="left:29.58px;top:0.83px;font-size:18px">41 yrs 2 mos.</div></div><div class="fl" style="left:50.5px;top:1044.6px"><svg width="23" height="23" viewBox="0 0 24 24"><rect x="0" y="0" width="24" height="24" fill="#5e9a3c"/><rect x="6" y="7" width="12" height="4" fill="#f5f5f5"/><rect x="7" y="15" width="10" height="1.2" fill="#f5f5f5"/><rect x="7" y="13.5" width="0.6" height="2.5" fill="#f5f5f5"/></svg></div><div class="nm" style="left:82.3px;top:1045.05px">Saudi Arabia</div><div class="tr" style="left:263px;top:1048.44px"><div class="or" style="width:21.6px"></div><div class="vl" style="left:29.93px;top:0.95px;font-size:18px">41 yrs 10 mos.</div></div><div class="fl" style="left:50.5px;top:1074.6px"><svg width="23" height="23" viewBox="0 0 24 24"><rect x="0" y="0" width="24" height="24" fill="#e84a5f"/><rect x="0" y="6" width="24" height="12" fill="#fbc531"/><rect x="5" y="9" width="4" height="6" fill="#c8414b"/><circle cx="7" cy="9" r="1.5" fill="#d9a12a"/></svg></div><div class="nm" style="left:82.3px;top:1075.05px">Spain</div><div class="tr" style="left:263px;top:1078.46px"><div class="or" style="width:23.8px"></div><div class="vl" style="left:32.13px;top:1.07px;font-size:18px">46 yrs 1 mo.</div></div><div class="fl" style="left:50.5px;top:1104.6px"><svg width="23" height="23" viewBox="0 0 24 24"><rect x="0" y="0.0" width="24" height="4.85" fill="#e84a5f"/><rect x="0" y="4.8" width="24" height="4.85" fill="#f5f5f5"/><rect x="0" y="9.6" width="24" height="4.85" fill="#e84a5f"/><rect x="0" y="14.399999999999999" width="24" height="4.85" fill="#f5f5f5"/><rect x="0" y="19.2" width="24" height="4.85" fill="#e84a5f"/><polygon points="0,0 12,12 0,24" fill="#4b92d4"/><polygon points="4.50,9.60 5.09,11.18 6.78,11.26 5.46,12.31 5.91,13.94 4.50,13.01 3.09,13.94 3.54,12.31 2.22,11.26 3.91,11.18" fill="#f5f5f5"/></svg></div><div class="nm" style="left:82.3px;top:1105.05px">Puerto Rico</div><div class="tr" style="left:263px;top:1108.48px"><div class="or" style="width:24.1px"></div><div class="vl" style="left:32.43px;top:0.19px;font-size:18px">46 yrs 8 mos.</div></div><div class="fl" style="left:50.5px;top:1134.6px"><svg width="23" height="23" viewBox="0 0 24 24"><rect x="0" y="0" width="8" height="24" fill="#74b14a"/><rect x="8" y="0" width="8" height="24" fill="#f5f5f5"/><rect x="16" y="0" width="8" height="24" fill="#e84a5f"/></svg></div><div class="nm" style="left:82.3px;top:1135.05px">Italy</div><div class="tr" style="left:263px;top:1138.5px"><div class="or" style="width:26.0px"></div><div class="vl" style="left:34.28px;top:0.31px;font-size:18px">50 yrs 3 mos.</div></div><div class="fl" style="left:50.5px;top:1164.6px"><svg width="23" height="23" viewBox="0 0 24 24"><rect x="0" y="0" width="24" height="12" fill="#f5f5f5"/><rect x="0" y="12" width="24" height="12" fill="#e84a5f"/><polygon points="0,0 12,12 0,24" fill="#4b92d4"/></svg></div><div class="nm" style="left:82.3px;top:1165.05px">Czechia</div><div class="tr" style="left:263px;top:1168.52px"><div class="or" style="width:27.8px"></div><div class="vl" style="left:36.09px;top:0.43px;font-size:18px">53 yrs 9 mos.</div></div><div class="fl" style="left:50.5px;top:1194.6px"><svg width="23" height="23" viewBox="0 0 24 24"><rect x="0" y="0" width="24" height="24" fill="#e84a5f"/><rect x="0" y="0" width="12" height="12" fill="#2f5fa6"/><circle cx="6" cy="6" r="2.8" fill="#f5f5f5"/><circle cx="6" cy="6" r="1.8" fill="#2f5fa6"/><circle cx="6" cy="6" r="1.4" fill="#f5f5f5"/></svg></div><div class="nm" style="left:82.3px;top:1195.05px">Taiwan</div><div class="tr" style="left:263px;top:1198.54px"><div class="or" style="width:28.6px"></div><div class="vl" style="left:36.91px;top:0.55px;font-size:18px">55 yrs 4 mos.</div></div><div class="fl" style="left:50.5px;top:1224.6px"><svg width="23" height="23" viewBox="0 0 24 24"><rect x="0" y="0" width="24" height="24" fill="#f5f5f5"/><polygon points="6,12 10,11 14,9 17,7 19,7 17,9 15,11 12,12.5 9,13" fill="#ff8c3a"/><path d="M6,15 Q12,19 18,15" stroke="#74b14a" stroke-width="1.3" fill="none"/></svg></div><div class="nm" style="left:82.3px;top:1225.05px">Cyprus</div><div class="tr" style="left:263px;top:1228.56px"><div class="or" style="width:30.3px"></div><div class="vl" style="left:38.63px;top:0.67px;font-size:18px">58 yrs 8 mos.</div></div><div class="fl" style="left:50.5px;top:1254.6px"><svg width="23" height="23" viewBox="0 0 24 24"><rect x="0" y="0" width="12" height="24" fill="#f5f5f5"/><rect x="12" y="0" width="12" height="24" fill="#e84a5f"/><rect x="3" y="3.5" width="5" height="1.8" fill="#aaa"/><rect x="4.6" y="2" width="1.8" height="5" fill="#aaa"/></svg></div><div class="nm" style="left:82.3px;top:1255.05px">Malta</div><div class="tr" style="left:263px;top:1258.58px"><div class="or" style="width:30.8px"></div><div class="vl" style="left:39.15px;top:0.79px;font-size:18px">59 yrs 8 mos.</div></div><div class="fl" style="left:50.5px;top:1284.6px"><svg width="23" height="23" viewBox="0 0 24 24"><rect x="0" y="0" width="24" height="8" fill="#41a6e0"/><rect x="0" y="8" width="24" height="8" fill="#3a3d42"/><rect x="0" y="16" width="24" height="8" fill="#f5f5f5"/></svg></div><div class="nm" style="left:82.3px;top:1285.05px">Estonia</div><div class="tr" style="left:263px;top:1288.6000000000001px"><div class="or" style="width:31.1px"></div><div class="vl" style="left:39.41px;top:0.91px;font-size:18px">60 yrs 2 mos.</div></div><div class="fl" style="left:50.5px;top:1314.6px"><svg width="23" height="23" viewBox="0 0 24 24"><rect x="0" y="0" width="24" height="8" fill="#f5f5f5"/><rect x="0" y="8" width="24" height="8" fill="#4b92d4"/><rect x="0" y="16" width="24" height="8" fill="#e84a5f"/><path d="M4,2.5 L10,2.5 L10,8 Q10,11 7,12 Q4,11 4,8Z" fill="#4b92d4" stroke="#e84a5f" stroke-width="0.8"/><polygon points="4.8,9 7,6.5 9.2,9" fill="#f5f5f5"/></svg></div><div class="nm" style="left:82.3px;top:1315.05px">Slovenia</div><div class="tr" style="left:263px;top:1318.6200000000001px"><div class="or" style="width:33.0px"></div><div class="vl" style="left:41.30px;top:1.03px;font-size:18px">63 yrs 10 mos.</div></div><div class="fl" style="left:50.5px;top:1344.6px"><svg width="23" height="23" viewBox="0 0 24 24"><rect x="0" y="0" width="24" height="12" fill="#e84a5f"/><rect x="0" y="12" width="24" height="12" fill="#4b92d4"/><polygon points="0,1 11,9.2 24,9.2 24,14.8 11,14.8 0,23" fill="#f5f5f5"/><polygon points="0,3 9.5,10.2 24,10.2 24,13.8 9.5,13.8 0,21" fill="#74b14a"/><polygon points="0,5 7,12 0,19" fill="#fbc531"/><polygon points="0,7 5,12 0,17" fill="#3a3d42"/></svg></div><div class="nm" style="left:82.3px;top:1345.05px">South Africa</div><div class="tr" style="left:263px;top:1348.64px"><div class="or" style="width:35.3px"></div><div class="vl" style="left:43.59px;top:1.15px;font-size:18px">68 yrs 3 mos.</div></div><div class="fl" style="left:50.5px;top:1374.6px"><svg width="23" height="23" viewBox="0 0 24 24"><rect x="0" y="0" width="24" height="8" fill="#fbc531"/><rect x="0" y="8" width="24" height="8" fill="#74b14a"/><rect x="0" y="16" width="24" height="8" fill="#bb4a54"/></svg></div><div class="nm" style="left:82.3px;top:1375.05px">Lithuania</div><div class="tr" style="left:263px;top:1378.66px"><div class="or" style="width:37.4px"></div><div class="vl" style="left:45.65px;top:0.27px;font-size:18px">72 yrs 3 mos.</div></div><div class="fl" style="left:50.5px;top:1404.6px"><svg width="23" height="23" viewBox="0 0 24 24"><rect x="0" y="0" width="24" height="12" fill="#f5f5f5"/><rect x="0" y="12" width="24" height="12" fill="#e84a5f"/></svg></div><div class="nm" style="left:82.3px;top:1405.05px">Poland</div><div class="tr" style="left:263px;top:1408.68px"><div class="or" style="width:40.2px"></div><div class="vl" style="left:48.50px;top:0.39px;font-size:18px">77 yrs 9 mos.</div></div><div class="fl" style="left:50.5px;top:1434.6px"><svg width="23" height="23" viewBox="0 0 24 24"><rect x="0" y="0" width="9" height="24" fill="#74b14a"/><rect x="9" y="0" width="15" height="24" fill="#e84a5f"/><circle cx="9" cy="12" r="4" fill="#fbc531"/><circle cx="9" cy="12" r="2.6" fill="#e84a5f"/><rect x="7.9" y="10.2" width="2.2" height="3.6" fill="#f5f5f5"/></svg></div><div class="nm" style="left:82.3px;top:1435.05px">Portugal</div><div class="tr" style="left:263px;top:1438.7px"><div class="or" style="width:40.3px"></div><div class="vl" style="left:48.63px;top:0.51px;font-size:18px">78 yrs</div></div><div class="fl" style="left:50.5px;top:1464.6px"><svg width="23" height="23" viewBox="0 0 24 24"><rect x="0" y="0" width="24" height="24" fill="#e84a5f"/><polygon points="7.50,5.00 8.49,7.64 11.30,7.76 9.10,9.52 9.85,12.24 7.50,10.68 5.15,12.24 5.90,9.52 3.70,7.76 6.51,7.64" fill="#fbc531"/><polygon points="13.00,3.20 13.32,4.06 14.24,4.10 13.52,4.67 13.76,5.55 13.00,5.05 12.24,5.55 12.48,4.67 11.76,4.10 12.68,4.06" fill="#fbc531"/><polygon points="15.50,6.20 15.82,7.06 16.74,7.10 16.02,7.67 16.26,8.55 15.50,8.05 14.74,8.55 14.98,7.67 14.26,7.10 15.18,7.06" fill="#fbc531"/><polygon points="15.50,10.20 15.82,11.06 16.74,11.10 16.02,11.67 16.26,12.55 15.50,12.05 14.74,12.55 14.98,11.67 14.26,11.10 15.18,11.06" fill="#fbc531"/><polygon points="13.00,13.20 13.32,14.06 14.24,14.10 13.52,14.67 13.76,15.55 13.00,15.05 12.24,15.55 12.48,14.67 11.76,14.10 12.68,14.06" fill="#fbc531"/></svg></div><div class="nm" style="left:82.3px;top:1465.05px">China</div><div class="tr" style="left:263px;top:1468.72px"><div class="or" style="width:40.7px"></div><div class="vl" style="left:49.01px;top:0.63px;font-size:18px">78 yrs 9 mos.</div></div><div class="fl" style="left:50.5px;top:1494.6px"><svg width="23" height="23" viewBox="0 0 24 24"><rect x="0" y="0" width="24" height="8" fill="#f5f5f5"/><rect x="0" y="8" width="24" height="8" fill="#4b92d4"/><rect x="0" y="16" width="24" height="8" fill="#e84a5f"/><path d="M5,5 L11,5 L11,12 Q11,15 8,16 Q5,15 5,12Z" fill="#e84a5f" stroke="#f5f5f5" stroke-width="0.8"/><rect x="7.5" y="7" width="1" height="6" fill="#f5f5f5"/><rect x="6.3" y="8.5" width="3.4" height="0.9" fill="#f5f5f5"/><rect x="6" y="10.5" width="4" height="0.9" fill="#f5f5f5"/></svg></div><div class="nm" style="left:82.3px;top:1495.05px">Slovakia</div><div class="tr" style="left:263px;top:1498.74px"><div class="or" style="width:41.8px"></div><div class="vl" style="left:50.13px;top:0.75px;font-size:18px">80 yrs 11 mos.</div></div><div class="fl" style="left:50.5px;top:1524.6px"><svg width="23" height="23" viewBox="0 0 24 24"><rect x="0" y="0" width="24" height="8" fill="#e84a5f"/><rect x="0" y="8" width="24" height="8" fill="#f5f5f5"/><rect x="0" y="16" width="24" height="8" fill="#4b92d4"/><path d="M8,5 L16,5 L16,14 Q16,18 12,19 Q8,18 8,14Z" fill="#f5f5f5"/><rect x="8.0" y="5.0" width="1.6" height="1.6" fill="#e84a5f"/><rect x="8.0" y="8.2" width="1.6" height="1.6" fill="#e84a5f"/><rect x="8.0" y="11.4" width="1.6" height="1.6" fill="#e84a5f"/><rect x="8.0" y="14.600000000000001" width="1.6" height="1.6" fill="#e84a5f"/><rect x="9.6" y="6.6" width="1.6" height="1.6" fill="#e84a5f"/><rect x="9.6" y="9.8" width="1.6" height="1.6" fill="#e84a5f"/><rect x="9.6" y="13.0" width="1.6" height="1.6" fill="#e84a5f"/><rect x="9.6" y="16.200000000000003" width="1.6" height="1.6" fill="#e84a5f"/><rect x="11.2" y="5.0" width="1.6" height="1.6" fill="#e84a5f"/><rect x="11.2" y="8.2" width="1.6" height="1.6" fill="#e84a5f"/><rect x="11.2" y="11.4" width="1.6" height="1.6" fill="#e84a5f"/><rect x="11.2" y="14.600000000000001" width="1.6" height="1.6" fill="#e84a5f"/><rect x="12.8" y="6.6" width="1.6" height="1.6" fill="#e84a5f"/><rect x="12.8" y="9.8" width="1.6" height="1.6" fill="#e84a5f"/><rect x="12.8" y="13.0" width="1.6" height="1.6" fill="#e84a5f"/><rect x="12.8" y="16.200000000000003" width="1.6" height="1.6" fill="#e84a5f"/><rect x="14.4" y="5.0" width="1.6" height="1.6" fill="#e84a5f"/><rect x="14.4" y="8.2" width="1.6" height="1.6" fill="#e84a5f"/><rect x="14.4" y="11.4" width="1.6" height="1.6" fill="#e84a5f"/><rect x="14.4" y="14.600000000000001" width="1.6" height="1.6" fill="#e84a5f"/><rect x="8" y="3.5" width="8" height="1.5" fill="#2f5fa6"/></svg></div><div class="nm" style="left:82.3px;top:1525.05px">Croatia</div><div class="tr" style="left:263px;top:1528.76px"><div class="or" style="width:42.2px"></div><div class="vl" style="left:50.48px;top:0.87px;font-size:18px">81 yrs 7 mos.</div></div><div class="fl" style="left:50.5px;top:1554.6px"><svg width="23" height="23" viewBox="0 0 24 24"><rect x="0" y="0" width="24" height="24" fill="#bb4a54"/><rect x="0" y="9.6" width="24" height="4.8" fill="#f5f5f5"/></svg></div><div class="nm" style="left:82.3px;top:1555.05px">Latvia</div><div class="tr" style="left:263px;top:1558.78px"><div class="or" style="width:42.9px"></div><div class="vl" style="left:51.21px;top:0.99px;font-size:18px">83 yrs</div></div><div class="fl" style="left:50.5px;top:1584.6px"><svg width="23" height="23" viewBox="0 0 24 24"><rect x="0" y="0.0" width="24" height="2.7166666666666663" fill="#f5f5f5"/><rect x="0" y="2.6666666666666665" width="24" height="2.7166666666666663" fill="#4b92d4"/><rect x="0" y="5.333333333333333" width="24" height="2.7166666666666663" fill="#f5f5f5"/><rect x="0" y="8.0" width="24" height="2.7166666666666663" fill="#4b92d4"/><rect x="0" y="10.666666666666666" width="24" height="2.7166666666666663" fill="#f5f5f5"/><rect x="0" y="13.333333333333332" width="24" height="2.7166666666666663" fill="#4b92d4"/><rect x="0" y="16.0" width="24" height="2.7166666666666663" fill="#f5f5f5"/><rect x="0" y="18.666666666666664" width="24" height="2.7166666666666663" fill="#4b92d4"/><rect x="0" y="21.333333333333332" width="24" height="2.7166666666666663" fill="#f5f5f5"/><rect x="0" y="0" width="10" height="13.3" fill="#f5f5f5"/><circle cx="5" cy="6.5" r="3" fill="#d9a12a"/><circle cx="5" cy="6.5" r="1.8" fill="#8b6b1a"/></svg></div><div class="nm" style="left:82.3px;top:1585.05px">Uruguay</div><div class="tr" style="left:263px;top:1588.8000000000002px"><div class="or" style="width:46.6px"></div><div class="vl" style="left:54.92px;top:1.11px;font-size:18px">90 yrs 2 mos.</div></div><div class="fl" style="left:50.5px;top:1614.6px"><svg width="23" height="23" viewBox="0 0 24 24"><rect x="0" y="0" width="24" height="8" fill="#e84a5f"/><rect x="0" y="8" width="24" height="8" fill="#f5f5f5"/><rect x="0" y="16" width="24" height="8" fill="#74b14a"/></svg></div><div class="nm" style="left:82.3px;top:1615.05px">Hungary</div><div class="tr" style="left:263px;top:1618.8200000000002px"><div class="or" style="width:48.8px"></div><div class="vl" style="left:57.07px;top:0.23px;font-size:18px">94 yrs 4 mos.</div></div><div class="fl" style="left:50.5px;top:1644.6px"><svg width="23" height="23" viewBox="0 0 24 24"><rect x="0" y="0.0" width="24" height="2.7166666666666663" fill="#4b92d4"/><rect x="0" y="2.6666666666666665" width="24" height="2.7166666666666663" fill="#f5f5f5"/><rect x="0" y="5.333333333333333" width="24" height="2.7166666666666663" fill="#4b92d4"/><rect x="0" y="8.0" width="24" height="2.7166666666666663" fill="#f5f5f5"/><rect x="0" y="10.666666666666666" width="24" height="2.7166666666666663" fill="#4b92d4"/><rect x="0" y="13.333333333333332" width="24" height="2.7166666666666663" fill="#f5f5f5"/><rect x="0" y="16.0" width="24" height="2.7166666666666663" fill="#4b92d4"/><rect x="0" y="18.666666666666664" width="24" height="2.7166666666666663" fill="#f5f5f5"/><rect x="0" y="21.333333333333332" width="24" height="2.7166666666666663" fill="#4b92d4"/><rect x="0" y="0" width="13.3" height="13.3" fill="#4b92d4"/><rect x="0" y="5.2" width="13.3" height="2.9" fill="#f5f5f5"/><rect x="5.2" y="0" width="2.9" height="13.3" fill="#f5f5f5"/></svg></div><div class="nm" style="left:82.3px;top:1645.05px">Greece</div><div class="tr" style="left:263px;top:1648.8400000000001px"><div class="or" style="width:49.3px"></div><div class="vl" style="left:57.59px;top:0.35px;font-size:18px">95 yrs 4 mos.</div></div><div class="fl" style="left:50.5px;top:1674.6px"><svg width="23" height="23" viewBox="0 0 24 24"><rect x="0" y="0.0" width="24" height="1.8961538461538463" fill="#e84a5f"/><rect x="0" y="1.8461538461538463" width="24" height="1.8961538461538463" fill="#f5f5f5"/><rect x="0" y="3.6923076923076925" width="24" height="1.8961538461538463" fill="#e84a5f"/><rect x="0" y="5.538461538461538" width="24" height="1.8961538461538463" fill="#f5f5f5"/><rect x="0" y="7.384615384615385" width="24" height="1.8961538461538463" fill="#e84a5f"/><rect x="0" y="9.230769230769232" width="24" height="1.8961538461538463" fill="#f5f5f5"/><rect x="0" y="11.076923076923077" width="24" height="1.8961538461538463" fill="#e84a5f"/><rect x="0" y="12.923076923076923" width="24" height="1.8961538461538463" fill="#f5f5f5"/><rect x="0" y="14.76923076923077" width="24" height="1.8961538461538463" fill="#e84a5f"/><rect x="0" y="16.615384615384617" width="24" height="1.8961538461538463" fill="#f5f5f5"/><rect x="0" y="18.461538461538463" width="24" height="1.8961538461538463" fill="#e84a5f"/><rect x="0" y="20.30769230769231" width="24" height="1.8961538461538463" fill="#f5f5f5"/><rect x="0" y="22.153846153846153" width="24" height="1.8961538461538463" fill="#e84a5f"/><rect x="0" y="0" width="12" height="13" fill="#2f5fa6"/><circle cx="5.5" cy="6.5" r="3.5" fill="#fbc531"/><circle cx="6.7" cy="6.5" r="3" fill="#2f5fa6"/><polygon points="8.50,4.90 8.89,5.96 10.02,6.01 9.14,6.71 9.44,7.79 8.50,7.17 7.56,7.79 7.86,6.71 6.98,6.01 8.11,5.96" fill="#fbc531"/></svg></div><div class="nm" style="left:82.3px;top:1675.05px">Malaysia</div><div class="tr" style="left:263px;top:1678.8600000000001px"><div class="or" style="width:49.4px"></div><div class="vl" style="left:57.72px;top:0.47px;font-size:18px">95 yrs 7 mos.</div></div><div class="fl" style="left:50.5px;top:1704.6px"><svg width="23" height="23" viewBox="0 0 24 24"><rect x="0" y="0" width="24" height="24" fill="#2f5fa6"/><rect x="0" y="4" width="24" height="16" fill="#f5f5f5"/><rect x="0" y="8" width="24" height="8" fill="#c9484b"/></svg></div><div class="nm" style="left:82.3px;top:1705.05px">Costa Rica</div><div class="tr" style="left:263px;top:1708.88px"><div class="or" style="width:51.2px"></div><div class="vl" style="left:59.48px;top:0.59px;font-size:18px">99 yrs</div></div><div class="fl" style="left:50.5px;top:1734.6px"><svg width="23" height="23" viewBox="0 0 24 24"><rect x="0" y="0" width="24" height="8" fill="#f5f5f5"/><rect x="0" y="8" width="24" height="8" fill="#74b14a"/><rect x="0" y="16" width="24" height="8" fill="#e84a5f"/></svg></div><div class="nm" style="left:82.3px;top:1735.05px">Bulgaria</div><div class="tr" style="left:263px;top:1738.9px"><div class="or" style="width:55.1px"></div><div class="vl" style="left:63.40px;top:0.71px;font-size:18px">106 yrs 7 mos.</div></div><div class="fl" style="left:510.7px;top:234.6px"><svg width="23" height="23" viewBox="0 0 24 24"><rect x="0" y="0" width="8" height="24" fill="#2f5fa6"/><rect x="8" y="0" width="8" height="24" fill="#fbc531"/><rect x="16" y="0" width="8" height="24" fill="#c8414b"/></svg></div><div class="nm r" style="left:542.2px;top:235.05px">Romania</div><div class="tr" style="left:724px;top:237.9px"><div class="or" style="width:56.7px"></div><div class="vl" style="left:66.15px;top:0.71px;font-size:18px">109 yrs 7 mos.</div></div><div class="fl" style="left:510.7px;top:264.6px"><svg width="23" height="23" viewBox="0 0 24 24"><rect x="0" y="0" width="12" height="12" fill="#f5f5f5"/><rect x="12" y="0" width="12" height="12" fill="#e84a5f"/><rect x="0" y="12" width="12" height="12" fill="#2f5fa6"/><rect x="12" y="12" width="12" height="12" fill="#f5f5f5"/><polygon points="6.00,3.80 6.54,5.25 8.09,5.32 6.88,6.29 7.29,7.78 6.00,6.92 4.71,7.78 5.12,6.29 3.91,5.32 5.46,5.25" fill="#2f5fa6"/><polygon points="18.00,15.80 18.54,17.25 20.09,17.32 18.88,18.29 19.29,19.78 18.00,18.92 16.71,19.78 17.12,18.29 15.91,17.32 17.46,17.25" fill="#e84a5f"/></svg></div><div class="nm r" style="left:542.2px;top:265.05px">Panama</div><div class="tr" style="left:724px;top:267.92px"><div class="or" style="width:57.9px"></div><div class="vl" style="left:67.36px;top:0.83px;font-size:18px">111 yrs 11 mos.</div></div><div class="fl" style="left:510.7px;top:294.6px"><svg width="23" height="23" viewBox="0 0 24 24"><rect x="0" y="0" width="8" height="24" fill="#74b14a"/><rect x="8" y="0" width="8" height="24" fill="#f5f5f5"/><rect x="16" y="0" width="8" height="24" fill="#e84a5f"/><circle cx="12" cy="12" r="2.6" fill="#b5803a"/><circle cx="12" cy="13" r="1.5" fill="#74b14a"/></svg></div><div class="nm r" style="left:542.2px;top:295.05px">Mexico</div><div class="tr" style="left:724px;top:297.94px"><div class="or" style="width:62.3px"></div><div class="vl" style="left:71.76px;top:0.95px;font-size:18px">120 yrs 5 mos.</div></div><div class="fl" style="left:510.7px;top:324.6px"><svg width="23" height="23" viewBox="0 0 24 24"><rect x="0" y="0" width="24" height="24" fill="#f2b533"/><circle cx="12" cy="12" r="10.5" fill="#d8302f"/><path d="M7,8 L10,10 L12,7 L14,10 L17,8 L16,14 L12,18 L8,14Z" fill="#f2b533"/></svg></div><div class="nm r" style="left:542.2px;top:325.05px">Montenegro</div><div class="tr" style="left:724px;top:327.96000000000004px"><div class="or" style="width:63.4px"></div><div class="vl" style="left:72.92px;top:1.07px;font-size:18px">122 yrs 8 mos.</div></div><div class="fl" style="left:510.7px;top:354.6px"><svg width="23" height="23" viewBox="0 0 24 24"><rect x="0" y="0" width="24" height="12" fill="#f5f5f5"/><rect x="0" y="12" width="24" height="12" fill="#e84a5f"/><rect x="0" y="0" width="10" height="12" fill="#2f5fa6"/><polygon points="5.00,3.20 5.69,5.05 7.66,5.13 6.12,6.36 6.65,8.27 5.00,7.18 3.35,8.27 3.88,6.36 2.34,5.13 4.31,5.05" fill="#f5f5f5"/></svg></div><div class="nm r" style="left:542.2px;top:355.05px">Chile</div><div class="tr" style="left:724px;top:357.98px"><div class="or" style="width:64.0px"></div><div class="vl" style="left:73.48px;top:0.19px;font-size:18px">123 yrs 9 mos.</div></div><div class="fl" style="left:510.7px;top:384.6px"><svg width="23" height="23" viewBox="0 0 24 24"><rect x="0" y="0" width="24" height="24" fill="#2f5fa6"/><polygon points="6,0 22,0 22,18" fill="#fbc531"/><polygon points="4.00,-0.10 4.27,0.63 5.05,0.66 4.44,1.14 4.65,1.89 4.00,1.46 3.35,1.89 3.56,1.14 2.95,0.66 3.73,0.63" fill="#f5f5f5"/><polygon points="7.00,2.90 7.27,3.63 8.05,3.66 7.44,4.14 7.65,4.89 7.00,4.46 6.35,4.89 6.56,4.14 5.95,3.66 6.73,3.63" fill="#f5f5f5"/><polygon points="10.00,5.90 10.27,6.63 11.05,6.66 10.44,7.14 10.65,7.89 10.00,7.46 9.35,7.89 9.56,7.14 8.95,6.66 9.73,6.63" fill="#f5f5f5"/><polygon points="13.00,8.90 13.27,9.63 14.05,9.66 13.44,10.14 13.65,10.89 13.00,10.46 12.35,10.89 12.56,10.14 11.95,9.66 12.73,9.63" fill="#f5f5f5"/><polygon points="16.00,11.90 16.27,12.63 17.05,12.66 16.44,13.14 16.65,13.89 16.00,13.46 15.35,13.89 15.56,13.14 14.95,12.66 15.73,12.63" fill="#f5f5f5"/><polygon points="19.00,14.90 19.27,15.63 20.05,15.66 19.44,16.14 19.65,16.89 19.00,16.46 18.35,16.89 18.56,16.14 17.95,15.66 18.73,15.63" fill="#f5f5f5"/><polygon points="22.00,17.90 22.27,18.63 23.05,18.66 22.44,19.14 22.65,19.89 22.00,19.46 21.35,19.89 21.56,19.14 20.95,18.66 21.73,18.63" fill="#f5f5f5"/></svg></div><div class="nm r" style="left:542.2px;top:385.05px">Bosnia and Herz.</div><div class="tr" style="left:724px;top:388.0px"><div class="or" style="width:67.8px"></div><div class="vl" style="left:77.31px;top:0.31px;font-size:18px">131 yrs 2 mos.</div></div><div class="fl" style="left:510.7px;top:414.6px"><svg width="23" height="23" viewBox="0 0 24 24"><rect x="0" y="0" width="24" height="8" fill="#3a3d42"/><rect x="0" y="8" width="24" height="8" fill="#f5f5f5"/><rect x="0" y="16" width="24" height="8" fill="#74b14a"/><polygon points="0,2 11,12 0,22" fill="#c8414b"/><polygon points="3.80,10.50 4.17,11.49 5.23,11.54 4.40,12.19 4.68,13.21 3.80,12.63 2.92,13.21 3.20,12.19 2.37,11.54 3.43,11.49" fill="#f5f5f5"/></svg></div><div class="nm r" style="left:542.2px;top:415.05px">Jordan</div><div class="tr" style="left:724px;top:418.02px"><div class="or" style="width:69.6px"></div><div class="vl" style="left:79.12px;top:0.43px;font-size:18px">134 yrs 8 mos.</div></div><div class="fl" style="left:510.7px;top:444.6px"><svg width="23" height="23" viewBox="0 0 24 24"><rect x="0" y="0" width="24" height="24" fill="#74b14a"/><polygon points="0,0 10,12 0,24" fill="#3a3d42"/><polygon points="24,0 14,12 24,24" fill="#3a3d42"/><path d="M0,0 L24,24 M24,0 L0,24" stroke="#fdd835" stroke-width="3.5"/></svg></div><div class="nm r" style="left:542.2px;top:445.05px">Jamaica</div><div class="tr" style="left:724px;top:448.03999999999996px"><div class="or" style="width:69.9px"></div><div class="vl" style="left:79.42px;top:0.55px;font-size:18px">135 yrs 3 mos.</div></div><div class="fl" style="left:510.7px;top:474.6px"><svg width="23" height="23" viewBox="0 0 24 24"><rect x="0" y="0" width="24" height="8" fill="#f5f5f5"/><rect x="0" y="8" width="24" height="8" fill="#3d7fc4"/><rect x="0" y="16" width="24" height="8" fill="#e84a5f"/></svg></div><div class="nm r" style="left:542.2px;top:475.05px">Russia</div><div class="tr" style="left:724px;top:478.06px"><div class="or" style="width:70.7px"></div><div class="vl" style="left:80.24px;top:0.67px;font-size:18px">136 yrs 10 mos.</div></div><div class="fl" style="left:510.7px;top:504.6px"><svg width="23" height="23" viewBox="0 0 24 24"><rect x="0" y="0" width="24" height="8" fill="#e84a5f"/><rect x="0" y="8" width="24" height="8" fill="#2f5fa6"/><rect x="0" y="16" width="24" height="8" fill="#f5f5f5"/><path d="M6,5 L12,5 L12,13 Q12,17 9,18 Q6,17 6,13Z" fill="#e84a5f" stroke="#f5f5f5" stroke-width="0.8"/><rect x="7" y="3" width="4" height="2" fill="#fbc531"/><rect x="8.5" y="7" width="1" height="8" fill="#f5f5f5"/><rect x="7" y="9.5" width="4" height="1" fill="#f5f5f5"/></svg></div><div class="nm r" style="left:542.2px;top:505.05px">Serbia</div><div class="tr" style="left:724px;top:508.08000000000004px"><div class="or" style="width:73.6px"></div><div class="vl" style="left:83.09px;top:0.79px;font-size:18px">142 yrs 4 mos.</div></div><div class="fl" style="left:510.7px;top:534.6px"><svg width="23" height="23" viewBox="0 0 24 24"><rect x="0" y="0" width="24" height="8" fill="#fbac2c"/><rect x="0" y="8" width="24" height="8" fill="#f5f5f5"/><rect x="0" y="16" width="24" height="8" fill="#74b14a"/><circle cx="12" cy="12" r="2.5" fill="#3f7fc4"/></svg></div><div class="nm r" style="left:542.2px;top:535.05px">India</div><div class="tr" style="left:724px;top:538.1px"><div class="or" style="width:76.7px"></div><div class="vl" style="left:86.23px;top:0.91px;font-size:18px">148 yrs 5 mos.</div></div><div class="fl" style="left:510.7px;top:564.6px"><svg width="23" height="23" viewBox="0 0 24 24"><rect x="0" y="0" width="24" height="8" fill="#e84a5f"/><rect x="0" y="8" width="24" height="8" fill="#2f5fa6"/><rect x="0" y="16" width="24" height="8" fill="#fbc531"/></svg></div><div class="nm r" style="left:542.2px;top:565.05px">Armenia</div><div class="tr" style="left:724px;top:568.12px"><div class="or" style="width:76.9px"></div><div class="vl" style="left:86.36px;top:1.03px;font-size:18px">148 yrs 8 mos.</div></div><div class="fl" style="left:510.7px;top:594.6px"><svg width="23" height="23" viewBox="0 0 24 24"><rect x="0" y="0" width="24" height="8" fill="#c8414b"/><rect x="0" y="8" width="24" height="8" fill="#f5f5f5"/><rect x="0" y="16" width="24" height="8" fill="#3a3d42"/><rect x="5" y="10" width="14" height="2" fill="#74b14a"/><rect x="6" y="8.5" width="1" height="3" fill="#74b14a"/><rect x="14" y="8.5" width="1" height="3" fill="#74b14a"/><rect x="17" y="8.5" width="1" height="3" fill="#74b14a"/></svg></div><div class="nm r" style="left:542.2px;top:595.05px">Iraq</div><div class="tr" style="left:724px;top:598.14px"><div class="or" style="width:79.7px"></div><div class="vl" style="left:89.16px;top:1.15px;font-size:18px">154 yrs 1 mo.</div></div><div class="fl" style="left:510.7px;top:624.6px"><svg width="23" height="23" viewBox="0 0 24 24"><rect x="0" y="0" width="24" height="24" fill="#e84a5f"/><rect x="0" y="4" width="24" height="16" fill="#f5f5f5"/><rect x="0" y="8" width="24" height="8" fill="#2f5fa6"/></svg></div><div class="nm r" style="left:542.2px;top:625.05px">Thailand</div><div class="tr" style="left:724px;top:628.16px"><div class="or" style="width:79.9px"></div><div class="vl" style="left:89.38px;top:0.27px;font-size:18px">154 yrs 6 mos.</div></div><div class="fl" style="left:510.7px;top:654.6px"><svg width="23" height="23" viewBox="0 0 24 24"><rect x="0" y="0" width="24" height="12" fill="#fdd835"/><rect x="0" y="12" width="24" height="6" fill="#2f5fa6"/><rect x="0" y="18" width="24" height="6" fill="#e84a5f"/><circle cx="12" cy="12" r="3" fill="#5a7ab8"/><path d="M7,8 Q12,5 17,8" stroke="#3a3d42" stroke-width="1.2" fill="none"/></svg></div><div class="nm r" style="left:542.2px;top:655.05px">Ecuador</div><div class="tr" style="left:724px;top:658.18px"><div class="or" style="width:84.3px"></div><div class="vl" style="left:93.77px;top:0.65px;font-size:17.7px">163 yrs</div></div><div class="fl" style="left:510.7px;top:684.6px"><svg width="23" height="23" viewBox="0 0 24 24"><rect x="0" y="0" width="24" height="24" fill="#e84a5f"/><rect x="0" y="6" width="24" height="12" fill="#f5f5f5"/><polygon points="12,7 16,15 8,15" fill="#74b14a"/><rect x="11.4" y="15" width="1.2" height="2" fill="#74b14a"/></svg></div><div class="nm r" style="left:542.2px;top:685.05px">Lebanon</div><div class="tr" style="left:724px;top:688.2px"><div class="or" style="width:84.9px"></div><div class="vl" style="left:94.42px;top:0.51px;font-size:18px">164 yrs 3 mos.</div></div><div class="fl" style="left:510.7px;top:714.6px"><svg width="23" height="23" viewBox="0 0 24 24"><rect x="0" y="0" width="24" height="16" fill="#c8414b"/><rect x="0" y="16" width="24" height="8" fill="#74b14a"/><rect x="0" y="0" width="4.5" height="24" fill="#f5f5f5"/><circle cx="1.5" cy="1" r="0.8" fill="#c8414b"/><circle cx="3.0" cy="3" r="0.8" fill="#c8414b"/><circle cx="1.5" cy="5" r="0.8" fill="#c8414b"/><circle cx="3.0" cy="7" r="0.8" fill="#c8414b"/><circle cx="1.5" cy="9" r="0.8" fill="#c8414b"/><circle cx="3.0" cy="11" r="0.8" fill="#c8414b"/><circle cx="1.5" cy="13" r="0.8" fill="#c8414b"/><circle cx="3.0" cy="15" r="0.8" fill="#c8414b"/><circle cx="1.5" cy="17" r="0.8" fill="#c8414b"/><circle cx="3.0" cy="19" r="0.8" fill="#c8414b"/><circle cx="1.5" cy="21" r="0.8" fill="#c8414b"/><circle cx="3.0" cy="23" r="0.8" fill="#c8414b"/></svg></div><div class="nm r" style="left:542.2px;top:715.05px">Belarus</div><div class="tr" style="left:724px;top:718.22px"><div class="or" style="width:85.7px"></div><div class="vl" style="left:95.24px;top:0.63px;font-size:18px">165 yrs 10 mos.</div></div><div class="fl" style="left:510.7px;top:744.6px"><svg width="23" height="23" viewBox="0 0 24 24"><rect x="0" y="0" width="24" height="24" fill="#36a9c9"/><circle cx="13" cy="11" r="3.5" fill="#fdd835"/><path d="M8,16 Q13,20 18,16" stroke="#fdd835" stroke-width="1.5" fill="none"/><rect x="3" y="1" width="1.8" height="22" fill="#fdd835"/></svg></div><div class="nm r" style="left:542.2px;top:745.05px">Kazakhstan</div><div class="tr" style="left:724px;top:748.24px"><div class="or" style="width:88.4px"></div><div class="vl" style="left:97.91px;top:1.01px;font-size:17.7px">171 yrs</div></div><div class="fl" style="left:510.7px;top:774.6px"><svg width="23" height="23" viewBox="0 0 24 24"><rect x="0" y="0" width="24" height="24" fill="#f5f5f5"/><rect x="0" y="10.0" width="24" height="4" fill="#e84a5f"/><rect x="10.0" y="0" width="4" height="24" fill="#e84a5f"/><rect x="5.4" y="4" width="1.2" height="4" fill="#e84a5f"/><rect x="4" y="5.4" width="4" height="1.2" fill="#e84a5f"/><rect x="17.4" y="4" width="1.2" height="4" fill="#e84a5f"/><rect x="16" y="5.4" width="4" height="1.2" fill="#e84a5f"/><rect x="5.4" y="16" width="1.2" height="4" fill="#e84a5f"/><rect x="4" y="17.4" width="4" height="1.2" fill="#e84a5f"/><rect x="17.4" y="16" width="1.2" height="4" fill="#e84a5f"/><rect x="16" y="17.4" width="4" height="1.2" fill="#e84a5f"/></svg></div><div class="nm r" style="left:542.2px;top:775.05px">Georgia</div><div class="tr" style="left:724px;top:778.26px"><div class="or" style="width:89.3px"></div><div class="vl" style="left:98.77px;top:1.35px;font-size:17px">172 yrs 8 mos.</div></div><div class="fl" style="left:510.7px;top:804.6px"><svg width="23" height="23" viewBox="0 0 24 24"><rect x="0" y="0" width="8" height="24" fill="#4b92d4"/><rect x="8" y="0" width="8" height="24" fill="#f5f5f5"/><rect x="16" y="0" width="8" height="24" fill="#4b92d4"/><circle cx="12" cy="12" r="2.5" fill="#9bb36a"/></svg></div><div class="nm r" style="left:542.2px;top:805.05px">Guatemala</div><div class="tr" style="left:724px;top:808.28px"><div class="or" style="width:90.3px"></div><div class="vl" style="left:99.80px;top:1.47px;font-size:17px">174 yrs 8 mos.</div></div><div class="fl" style="left:510.7px;top:834.6px"><svg width="23" height="23" viewBox="0 0 24 24"><rect x="0" y="0" width="24" height="24" fill="#f0384f"/><polygon points="12.00,6.50 13.48,10.46 17.71,10.65 14.40,13.28 15.53,17.35 12.00,15.02 8.47,17.35 9.60,13.28 6.29,10.65 10.52,10.46" fill="#fdd835"/></svg></div><div class="nm r" style="left:542.2px;top:835.05px">Vietnam</div><div class="tr" style="left:724px;top:838.3px"><div class="or" style="width:94.8px"></div><div class="vl" style="left:103.50px;top:1.59px;font-size:17px">183 yrs 4 mos.</div></div><div class="fl" style="left:510.7px;top:864.6px"><svg width="23" height="23" viewBox="0 0 24 24"><rect x="0" y="0" width="24" height="24" fill="#f0384f"/><polygon points="10.5,12 13.5,12 14.5,-2 9.5,-2" fill="#fbc531" transform="rotate(0 12 12)"/><polygon points="10.5,12 13.5,12 14.5,-2 9.5,-2" fill="#fbc531" transform="rotate(45 12 12)"/><polygon points="10.5,12 13.5,12 14.5,-2 9.5,-2" fill="#fbc531" transform="rotate(90 12 12)"/><polygon points="10.5,12 13.5,12 14.5,-2 9.5,-2" fill="#fbc531" transform="rotate(135 12 12)"/><polygon points="10.5,12 13.5,12 14.5,-2 9.5,-2" fill="#fbc531" transform="rotate(180 12 12)"/><polygon points="10.5,12 13.5,12 14.5,-2 9.5,-2" fill="#fbc531" transform="rotate(225 12 12)"/><polygon points="10.5,12 13.5,12 14.5,-2 9.5,-2" fill="#fbc531" transform="rotate(270 12 12)"/><polygon points="10.5,12 13.5,12 14.5,-2 9.5,-2" fill="#fbc531" transform="rotate(315 12 12)"/><circle cx="12" cy="12" r="3.8" fill="#fbc531"/><circle cx="12" cy="12" r="3" fill="#fbc531"/></svg></div><div class="nm r" style="left:542.2px;top:865.05px">North Macedonia</div><div class="tr" style="left:724px;top:868.3199999999999px"><div class="or" style="width:97.4px"></div><div class="vl" style="left:104.50px;top:1.71px;font-size:17px">188 yrs 4 mos.</div></div><div class="fl" style="left:510.7px;top:894.6px"><svg width="23" height="23" viewBox="0 0 24 24"><rect x="0" y="0" width="24" height="8" fill="#c8414b"/><rect x="0" y="8" width="24" height="8" fill="#fbc531"/><rect x="0" y="16" width="24" height="8" fill="#74b14a"/><rect x="10" y="9" width="4" height="6" fill="#6a8e3a"/></svg></div><div class="nm r" style="left:542.2px;top:895.05px">Bolivia</div><div class="tr" style="left:724px;top:898.3399999999999px"><div class="or" style="width:98.7px"></div><div class="vl" style="left:105.90px;top:1.34px;font-size:16.8px">191 yrs</div></div><div class="fl" style="left:510.7px;top:924.6px"><svg width="23" height="23" viewBox="0 0 24 24"><rect x="0" y="0" width="24" height="24" fill="#f0384f"/><path d="M8,7 L11,9 L12,6 L13,9 L16,7 L16,14 L13,15 L12,18 L11,15 L8,14Z" fill="#3a3d42"/></svg></div><div class="nm r" style="left:542.2px;top:925.05px">Albania</div><div class="tr" style="left:724px;top:928.36px"><div class="or" style="width:101.0px"></div><div class="vl" style="left:108.80px;top:0.96px;font-size:15.4px">195 yrs 4 mos.</div></div><div class="fl" style="left:510.7px;top:954.6px"><svg width="23" height="23" viewBox="0 0 24 24"><rect x="0" y="0" width="8" height="24" fill="#2f5fa6"/><rect x="8" y="0" width="8" height="24" fill="#fdd835"/><rect x="16" y="0" width="8" height="24" fill="#e84a5f"/><rect x="10" y="9" width="4" height="6" fill="#a56f3d"/></svg></div><div class="nm r" style="left:542.2px;top:955.05px">Moldova</div><div class="tr" style="left:724px;top:958.38px"><div class="or" style="width:101.3px"></div><div class="vl" style="left:110.00px;top:0.23px;font-size:16.25px">195 yrs 11 mos.</div></div><div class="fl" style="left:510.7px;top:984.6px"><svg width="23" height="23" viewBox="0 0 24 24"><rect x="0" y="0" width="24" height="24" fill="#e84a5f"/><circle cx="10" cy="12" r="6" fill="#f5f5f5"/><circle cx="11.5" cy="12" r="4.8" fill="#e84a5f"/><polygon points="16.00,9.70 16.57,11.22 18.19,11.29 16.92,12.30 17.35,13.86 16.00,12.97 14.65,13.86 15.08,12.30 13.81,11.29 15.43,11.22" fill="#f5f5f5"/></svg></div><div class="nm r" style="left:542.2px;top:985.05px">Türkiye</div><div class="tr" style="left:724px;top:988.4px"><div class="or" style="width:103.7px"></div><div class="vl" style="left:113.60px;top:0.73px;font-size:16px">200 yrs 7 mos.</div></div><div class="fl" style="left:510.7px;top:1014.6px"><svg width="23" height="23" viewBox="0 0 24 24"><rect x="0" y="0" width="8" height="24" fill="#e84a5f"/><rect x="8" y="0" width="8" height="24" fill="#f5f5f5"/><rect x="16" y="0" width="8" height="24" fill="#e84a5f"/></svg></div><div class="nm r" style="left:542.2px;top:1015.05px">Peru</div><div class="tr" style="left:724px;top:1018.42px"><div class="or" style="width:104.3px"></div><div class="vl" style="left:114.80px;top:0.73px;font-size:15.95px">201 yrs 8 mos.</div></div><div class="fl" style="left:510.7px;top:1044.6px"><svg width="23" height="23" viewBox="0 0 24 24"><rect x="0" y="0" width="24" height="8" fill="#9ccbed"/><rect x="0" y="8" width="24" height="8" fill="#f5f5f5"/><rect x="0" y="16" width="24" height="8" fill="#9ccbed"/><circle cx="12" cy="12" r="2.5" fill="#fbc531"/><circle cx="12" cy="12" r="1" fill="#a8741a"/></svg></div><div class="nm r" style="left:542.2px;top:1045.05px">Argentina</div><div class="tr" style="left:724px;top:1048.44px"><div class="or" style="width:104.3px"></div><div class="vl" style="left:116.50px;top:0.45px;font-size:15.0px">201 yrs 10 mos.</div></div><div class="fl" style="left:510.7px;top:1074.6px"><svg width="23" height="23" viewBox="0 0 24 24"><rect x="0" y="0" width="24" height="8" fill="#3d7fc4"/><rect x="0" y="8" width="24" height="8" fill="#f5f5f5"/><rect x="0" y="16" width="24" height="8" fill="#3d7fc4"/><circle cx="12" cy="12" r="2.5" fill="#d8b64a"/><circle cx="12" cy="12" r="1.5" fill="#74b14a"/></svg></div><div class="nm r" style="left:542.2px;top:1075.05px">El Salvador</div><div class="tr" style="left:724px;top:1078.46px"><div class="or" style="width:106.1px"></div><div class="vl" style="left:116.70px;top:0.80px;font-size:15.5px">205 yrs 2 mos.</div></div><div class="fl" style="left:510.7px;top:1104.6px"><svg width="23" height="23" viewBox="0 0 24 24"><rect x="0" y="0" width="24" height="7" fill="#3a3d42"/><rect x="0" y="7" width="24" height="2" fill="#f5f5f5"/><rect x="0" y="9" width="24" height="6" fill="#c8414b"/><rect x="0" y="15" width="24" height="2" fill="#f5f5f5"/><rect x="0" y="17" width="24" height="7" fill="#74b14a"/><ellipse cx="12" cy="12" rx="2.2" ry="5" fill="#c8414b" stroke="#3a3d42" stroke-width="0.8"/><path d="M8,6 L16,18 M16,6 L8,18" stroke="#f5f5f5" stroke-width="0.7"/></svg></div><div class="nm r" style="left:542.2px;top:1105.05px">Kenya</div><div class="tr" style="left:724px;top:1108.48px"><div class="or" style="width:108.4px"></div><div class="vl" style="left:116.50px;top:0.82px;font-size:15.05px">209 yrs 7 mos.</div></div><div class="fl" style="left:510.7px;top:1134.6px"><svg width="23" height="23" viewBox="0 0 24 24"><rect x="0" y="0" width="24" height="24" fill="#5e9a3c"/><polygon points="12,3.5 22.5,12 12,20.5 1.5,12" fill="#fdd835"/><circle cx="12" cy="12" r="4.8" fill="#2f5fa6"/><path d="M7.5,11 Q12,9.5 16.5,13" stroke="#f5f5f5" stroke-width="0.9" fill="none"/></svg></div><div class="nm r" style="left:542.2px;top:1135.05px">Brazil</div><div class="tr" style="left:724px;top:1138.5px"><div class="or" style="width:109.1px"></div><div class="vl" style="left:120.30px;top:0.55px;font-size:15.3px">211 yrs</div></div><div class="fl" style="left:510.7px;top:1164.6px"><svg width="23" height="23" viewBox="0 0 24 24"><rect x="0" y="0" width="24" height="12" fill="#45a5df"/><rect x="0" y="12" width="24" height="6" fill="#fdd835"/><rect x="0" y="18" width="24" height="6" fill="#5e9a3c"/><circle cx="17" cy="6" r="3" fill="#e5be01"/><circle cx="17" cy="6" r="1.8" fill="#45a5df"/><circle cx="17" cy="6" r="1.3" fill="#e5be01"/></svg></div><div class="nm r" style="left:542.2px;top:1165.05px">Rwanda</div><div class="tr" style="left:724px;top:1168.52px"><div class="or" style="width:109.6px"></div><div class="vl" style="left:120.30px;top:-0.07px;font-size:15px">212 yrs 1 mo.</div></div><div class="fl" style="left:510.7px;top:1194.6px"><svg width="23" height="23" viewBox="0 0 24 24"><rect x="0" y="0" width="24" height="24" fill="#f5f5f5"/><rect x="0" y="0" width="10" height="10" fill="#2f5fa6"/><rect x="14" y="0" width="10" height="10" fill="#c8414b"/><rect x="0" y="14" width="10" height="10" fill="#c8414b"/><rect x="14" y="14" width="10" height="10" fill="#2f5fa6"/><rect x="10.3" y="10.3" width="3.4" height="3.4" fill="#6a8e3a"/></svg></div><div class="nm r" style="left:542.2px;top:1195.05px">Dominican Rep.</div><div class="tr" style="left:724px;top:1198.54px"><div class="or" style="width:110.9px"></div><div class="vl" style="left:120.30px;top:0.11px;font-size:15.03px">214 yrs 5 mos.</div></div><div class="fl" style="left:510.7px;top:1224.6px"><svg width="23" height="23" viewBox="0 0 24 24"><rect x="0" y="0" width="24" height="24" fill="#f0384f"/><polygon points="12,6 14,16.5 5.5,10 18.5,10 10,16.5" fill="none" stroke="#4a7a2f" stroke-width="1.2"/><polygon points="12.00,6.30 13.36,9.93 17.23,10.10 14.20,12.51 15.23,16.25 12.00,14.11 8.77,16.25 9.80,12.51 6.77,10.10 10.64,9.93" fill="#4a7a2f"/></svg></div><div class="nm r" style="left:542.2px;top:1225.05px">Morocco</div><div class="tr" style="left:724px;top:1228.56px"><div class="or" style="width:111.4px"></div><div class="vl" style="left:120.30px;top:0.23px;font-size:15.03px">215 yrs 6 mos.</div></div><div class="fl" style="left:510.7px;top:1254.6px"><svg width="23" height="23" viewBox="0 0 24 24"><rect x="0" y="0" width="24" height="12" fill="#3d7fc4"/><rect x="0" y="12" width="24" height="12" fill="#fdd835"/></svg></div><div class="nm r" style="left:542.2px;top:1255.05px">Ukraine</div><div class="tr" style="left:724px;top:1258.58px"><div class="or" style="width:111.6px"></div><div class="vl" style="left:120.30px;top:0.19px;font-size:14.55px">215 yrs 10 mos.</div></div><div class="fl" style="left:510.7px;top:1284.6px"><svg width="23" height="23" viewBox="0 0 24 24"><rect x="0" y="0" width="24" height="8" fill="#3d7fc4"/><rect x="0" y="8" width="24" height="8" fill="#e84a5f"/><rect x="0" y="16" width="24" height="8" fill="#74b14a"/><circle cx="11" cy="12" r="3.2" fill="#f5f5f5"/><circle cx="12" cy="12" r="2.6" fill="#e84a5f"/><polygon points="15.50,10.70 15.82,11.56 16.74,11.60 16.02,12.17 16.26,13.05 15.50,12.55 14.74,13.05 14.98,12.17 14.26,11.60 15.18,11.56" fill="#f5f5f5"/></svg></div><div class="nm r" style="left:542.2px;top:1285.05px">Azerbaijan</div><div class="tr" style="left:724px;top:1288.6000000000001px"><div class="or" style="width:118.2px"></div><div class="vl in" style="left:12.70px;top:0.54px;font-size:15.17px">228 yrs 8 mos.</div></div><div class="fl" style="left:510.7px;top:1314.6px"><svg width="23" height="23" viewBox="0 0 24 24"><rect x="0" y="0" width="24" height="12" fill="#e84a5f"/><rect x="0" y="12" width="24" height="12" fill="#f5f5f5"/></svg></div><div class="nm r" style="left:542.2px;top:1315.05px">Indonesia</div><div class="tr" style="left:724px;top:1318.6200000000001px"><div class="or" style="width:127.9px"></div><div class="vl in" style="left:16.80px;top:-0.14px;font-size:16.15px">247 yrs 5 mos.</div></div><div class="fl" style="left:510.7px;top:1344.6px"><svg width="23" height="23" viewBox="0 0 24 24"><rect x="0" y="0" width="24" height="12" fill="#3d7fc4"/><rect x="0" y="12" width="24" height="12" fill="#e84a5f"/><polygon points="0,0 11,12 0,24" fill="#f5f5f5"/><circle cx="4" cy="12" r="2.5" fill="#fbc531"/><polygon points="1.50,2.00 1.75,2.66 2.45,2.69 1.90,3.13 2.09,3.81 1.50,3.42 0.91,3.81 1.10,3.13 0.55,2.69 1.25,2.66" fill="#fbc531"/><polygon points="1.50,20.00 1.75,20.66 2.45,20.69 1.90,21.13 2.09,21.81 1.50,21.42 0.91,21.81 1.10,21.13 0.55,20.69 1.25,20.66" fill="#fbc531"/><polygon points="9.00,11.00 9.25,11.66 9.95,11.69 9.40,12.13 9.59,12.81 9.00,12.42 8.41,12.81 8.60,12.13 8.05,11.69 8.75,11.66" fill="#fbc531"/></svg></div><div class="nm r" style="left:542.2px;top:1345.05px">Philippines</div><div class="tr" style="left:724px;top:1348.64px"><div class="or" style="width:139.6px"></div><div class="vl in" style="left:78.10px;top:0.54px;font-size:15.86px">270 yrs</div></div><div class="fl" style="left:510.7px;top:1374.6px"><svg width="23" height="23" viewBox="0 0 24 24"><rect x="0" y="0" width="24" height="8" fill="#74b14a"/><rect x="0" y="8" width="24" height="8" fill="#f5f5f5"/><rect x="0" y="16" width="24" height="8" fill="#e84a5f"/><circle cx="12" cy="12" r="1.8" fill="#e84a5f"/><rect x="0" y="7.5" width="24" height="0.6" fill="#e84a5f"/><rect x="0" y="15.9" width="24" height="0.6" fill="#e84a5f"/></svg></div><div class="nm r" style="left:542.2px;top:1375.05px">Iran</div><div class="tr" style="left:724px;top:1378.66px"><div class="or" style="width:141.9px"></div><div class="vl in" style="left:27.20px;top:-0.08px;font-size:16.1px">274 yrs 5 mos.</div></div><div class="fl" style="left:510.7px;top:1404.6px"><svg width="23" height="23" viewBox="0 0 24 24"><rect x="0" y="0" width="24" height="8" fill="#36a9c9"/><rect x="0" y="8" width="24" height="8" fill="#f5f5f5"/><rect x="0" y="16" width="24" height="8" fill="#74b14a"/><rect x="0" y="7.5" width="24" height="1" fill="#e84a5f"/><rect x="0" y="15.5" width="24" height="1" fill="#e84a5f"/><circle cx="4.5" cy="4" r="2.3" fill="#f5f5f5"/><circle cx="5.4" cy="4" r="2" fill="#36a9c9"/><circle cx="8.0" cy="2.5" r="0.45" fill="#f5f5f5"/><circle cx="8.0" cy="4.0" r="0.45" fill="#f5f5f5"/><circle cx="8.0" cy="5.5" r="0.45" fill="#f5f5f5"/><circle cx="9.5" cy="2.5" r="0.45" fill="#f5f5f5"/><circle cx="9.5" cy="4.0" r="0.45" fill="#f5f5f5"/><circle cx="9.5" cy="5.5" r="0.45" fill="#f5f5f5"/><circle cx="11.0" cy="2.5" r="0.45" fill="#f5f5f5"/><circle cx="11.0" cy="4.0" r="0.45" fill="#f5f5f5"/><circle cx="11.0" cy="5.5" r="0.45" fill="#f5f5f5"/><circle cx="12.5" cy="2.5" r="0.45" fill="#f5f5f5"/><circle cx="12.5" cy="4.0" r="0.45" fill="#f5f5f5"/><circle cx="12.5" cy="5.5" r="0.45" fill="#f5f5f5"/></svg></div><div class="nm r" style="left:542.2px;top:1405.05px">Uzbekistan</div><div class="tr" style="left:724px;top:1408.68px"><div class="or" style="width:143.6px"></div><div class="vl in" style="left:28.20px;top:-0.08px;font-size:16.07px">277 yrs 8 mos.</div></div><div class="fl" style="left:510.7px;top:1434.6px"><svg width="23" height="23" viewBox="0 0 24 24"><rect x="0" y="0" width="24" height="24" fill="#e84a5f"/><circle cx="12" cy="12" r="6.5" fill="#f5f5f5"/><circle cx="12" cy="12" r="4.5" fill="#e84a5f"/><circle cx="13.2" cy="12" r="3.8" fill="#f5f5f5"/><polygon points="13.50,9.50 14.12,11.15 15.88,11.23 14.50,12.32 14.97,14.02 13.50,13.05 12.03,14.02 12.50,12.32 11.12,11.23 12.88,11.15" fill="#e84a5f"/></svg></div><div class="nm r" style="left:542.2px;top:1435.05px">Tunisia</div><div class="tr" style="left:724px;top:1438.7px"><div class="or" style="width:146.4px"></div><div class="vl in" style="left:32.00px;top:0.91px;font-size:16px">283 yrs 3 mos.</div></div><div class="fl" style="left:510.7px;top:1464.6px"><svg width="23" height="23" viewBox="0 0 24 24"><rect x="0" y="0" width="24" height="12" fill="#fdd835"/><rect x="0" y="12" width="24" height="6" fill="#2f5fa6"/><rect x="0" y="18" width="24" height="6" fill="#e84a5f"/></svg></div><div class="nm r" style="left:542.2px;top:1465.05px">Colombia</div><div class="tr" style="left:724px;top:1468.72px"><div class="or" style="width:148.6px"></div><div class="vl in" style="left:34.20px;top:0.04px;font-size:16.07px">287 yrs 4 mos.</div></div><div class="fl" style="left:510.7px;top:1494.6px"><svg width="23" height="23" viewBox="0 0 24 24"><rect x="0" y="0" width="24" height="24" fill="#2f5fa6"/><rect x="0" y="6" width="24" height="12" fill="#e84a5f"/><polygon points="5,16 19,16 17.5,13 16,13 15.5,10 14,10 13,7 12,6 11,7 10,10 8.5,10 8,13 6.5,13" fill="#f5f5f5"/></svg></div><div class="nm r" style="left:542.2px;top:1495.05px">Cambodia</div><div class="tr" style="left:724px;top:1498.74px"><div class="or" style="width:151.7px"></div><div class="vl in" style="left:38.00px;top:0.10px;font-size:16.07px">293 yrs 6 mos.</div></div><div class="fl" style="left:510.7px;top:1524.6px"><svg width="23" height="23" viewBox="0 0 24 24"><rect x="0" y="0" width="24" height="24" fill="#74b14a"/><rect x="0" y="3.5" width="24" height="3.5" fill="#fbc531"/><rect x="0" y="7" width="24" height="3.5" fill="#e84a5f"/><rect x="0" y="10.5" width="24" height="3" fill="#3a3d42"/><rect x="0" y="13.5" width="24" height="3.5" fill="#e84a5f"/><rect x="0" y="17" width="24" height="3.5" fill="#fbc531"/><polygon points="0,0 12,12 0,24" fill="#f5f5f5"/><polygon points="0,2 10,12 0,22" fill="#f5f5f5"/><polygon points="4.00,9.60 4.59,11.18 6.28,11.26 4.96,12.31 5.41,13.94 4.00,13.01 2.59,13.94 3.04,12.31 1.72,11.26 3.41,11.18" fill="#e84a5f"/><polygon points="4.00,10.70 4.32,11.56 5.24,11.60 4.52,12.17 4.76,13.05 4.00,12.55 3.24,13.05 3.48,12.17 2.76,11.60 3.68,11.56" fill="#fbc531"/></svg></div><div class="nm r" style="left:542.2px;top:1525.05px">Zimbabwe</div><div class="tr" style="left:724px;top:1528.76px"><div class="or" style="width:156.1px"></div><div class="vl in" style="left:31.50px;top:-0.47px;font-size:16.35px">301 yrs 11 mos.</div></div><div class="fl" style="left:510.7px;top:1554.6px"><svg width="23" height="23" viewBox="0 0 24 24"><rect x="0" y="0" width="12" height="24" fill="#5e9a3c"/><rect x="12" y="0" width="12" height="24" fill="#f5f5f5"/><circle cx="12" cy="12" r="5" fill="#e84a5f"/><circle cx="13.5" cy="12" r="4.2" fill="#f5f5f5"/><polygon points="14.50,9.80 15.04,11.25 16.59,11.32 15.38,12.29 15.79,13.78 14.50,12.92 13.21,13.78 13.62,12.29 12.41,11.32 13.96,11.25" fill="#e84a5f"/></svg></div><div class="nm r" style="left:542.2px;top:1555.05px">Algeria</div><div class="tr" style="left:724px;top:1558.78px"><div class="or" style="width:161.6px"></div><div class="vl in" style="left:46.20px;top:0.22px;font-size:16.07px">312 yrs 7 mos.</div></div><div class="fl" style="left:510.7px;top:1584.6px"><svg width="23" height="23" viewBox="0 0 24 24"><rect x="0" y="0" width="24" height="24" fill="#5e9a3c"/><circle cx="10.5" cy="12" r="6" fill="#e84a5f"/></svg></div><div class="nm r" style="left:542.2px;top:1585.05px">Bangladesh</div><div class="tr" style="left:724px;top:1588.8000000000002px"><div class="or" style="width:171.4px"></div><div class="vl in" style="left:45.30px;top:0.76px;font-size:18px">331 yrs 7 mos.</div></div><div class="fl" style="left:510.7px;top:1614.6px"><svg width="23" height="23" viewBox="0 0 24 24"><rect x="0" y="0" width="24" height="24" fill="#f5f5f5"/><polygon points="1,0 16,11 8,11 17,24 1,24" fill="#3d7fc4"/><polygon points="2.5,2 12.5,10 5.5,10 14,22.5 2.5,22.5" fill="#e84a5f"/><circle cx="6" cy="7.5" r="1.5" fill="#f5f5f5"/><circle cx="6" cy="17.5" r="1.8" fill="#f5f5f5"/></svg></div><div class="nm r" style="left:542.2px;top:1615.05px">Nepal</div><div class="tr" style="left:724px;top:1618.8200000000002px"><div class="or" style="width:189.2px"></div><div class="vl in" style="left:64.00px;top:0.82px;font-size:18px">420 yrs 9 mos.</div></div><div class="fl" style="left:510.7px;top:1644.6px"><svg width="23" height="23" viewBox="0 0 24 24"><rect x="0" y="0" width="8" height="24" fill="#74b14a"/><rect x="8" y="0" width="8" height="24" fill="#f5f5f5"/><rect x="16" y="0" width="8" height="24" fill="#74b14a"/></svg></div><div class="nm r" style="left:542.2px;top:1645.05px">Nigeria</div><div class="tr" style="left:724px;top:1648.8400000000001px"><div class="or" style="width:203.8px"></div><div class="vl in" style="left:91.50px;top:0.88px;font-size:18px">519 yrs 1 mo.</div></div><div class="fl" style="left:510.7px;top:1674.6px"><svg width="23" height="23" viewBox="0 0 24 24"><rect x="0" y="0" width="24" height="4" fill="#3a3d42"/><rect x="0" y="4" width="24" height="4" fill="#fdd835"/><rect x="0" y="8" width="24" height="4" fill="#e84a5f"/><rect x="0" y="12" width="24" height="4" fill="#3a3d42"/><rect x="0" y="16" width="24" height="4" fill="#fdd835"/><rect x="0" y="20" width="24" height="4" fill="#e84a5f"/><circle cx="12" cy="12" r="4" fill="#f5f5f5"/><rect x="11.3" y="9.5" width="1.4" height="5" fill="#3a3d42"/></svg></div><div class="nm r" style="left:542.2px;top:1675.05px">Uganda</div><div class="tr" style="left:724px;top:1678.8600000000001px"><div class="or" style="width:206.0px"></div><div class="vl in" style="left:80.10px;top:0.94px;font-size:18px">523 yrs 3 mos.</div></div><div class="fl" style="left:510.7px;top:1704.6px"><svg width="23" height="23" viewBox="0 0 24 24"><rect x="0" y="0" width="24" height="8" fill="#e84a5f"/><rect x="0" y="8" width="24" height="8" fill="#f5f5f5"/><rect x="0" y="16" width="24" height="8" fill="#3a3d42"/><rect x="10.7" y="9.5" width="2.6" height="4" fill="#c09a3a"/></svg></div><div class="nm r" style="left:542.2px;top:1705.05px">Egypt</div><div class="tr" style="left:724px;top:1708.88px"><div class="or" style="width:221.1px"></div><div class="vl in" style="left:95.70px;top:1.00px;font-size:18px">603 yrs 6 mos.</div></div><div class="fl" style="left:510.7px;top:1734.6px"><svg width="23" height="23" viewBox="0 0 24 24"><rect x="0" y="0" width="7" height="24" fill="#f5f5f5"/><rect x="7" y="0" width="17" height="24" fill="#5e9a3c"/><circle cx="15" cy="12" r="5.5" fill="#f5f5f5"/><circle cx="16.5" cy="10.5" r="5" fill="#5e9a3c"/><polygon points="18.00,6.20 18.44,7.39 19.71,7.44 18.72,8.23 19.06,9.46 18.00,8.76 16.94,9.46 17.28,8.23 16.29,7.44 17.56,7.39" fill="#f5f5f5"/></svg></div><div class="nm r" style="left:542.2px;top:1735.05px">Pakistan</div><div class="tr" style="left:724px;top:1738.9px"><div class="or" style="width:227.0px"></div><div class="vl in" style="left:99.30px;top:1.06px;font-size:18px">621 yrs 3 mos.</div></div>
<div id="ft">
<div style="position:absolute;left:35px;top:20.8px;font-size:17px;letter-spacing:-0.15px;color:#fff;line-height:20px;white-space:nowrap">Source: Numbeo, Picodi.com</div>
<svg style="position:absolute;left:854px;top:5px" width="50" height="50" viewBox="0 0 50 50">
<path d="M20,6 A17,17 0 1 0 14,40" stroke="#fff" stroke-width="1.1" fill="none"/>
<path d="M8.5,17 Q12,8 20.5,6 Q15,10 12,18 Z" fill="#fff"/>
<path d="M22.5,9 L26,11.5 L31,11 L31.5,6 L35,9.5 L37.5,14 L37,20" stroke="#fff" stroke-width="1" fill="none"/>
<path d="M22.5,9 Q21,14 23,19" stroke="#fff" stroke-width="1" fill="none"/>
<path d="M15,25 L27,22 L28,16 L33,15 L35,21 L37.5,21 L44,26 L41,32.5 L16,36.5 Z" fill="#fff"/>
<path d="M14,40 L40,36 L43,39 L40,44 L15,42.5 Z" fill="#fff"/>
<path d="M14.5,38.5 L41,34" stroke="#5e8ba6" stroke-width="1"/>
<text x="22" y="32" font-size="7.5" fill="#5e8ba6" font-family="Liberation Sans" transform="rotate(-8 25 30)">%</text>
<circle cx="40" cy="26.5" r="0.9" fill="#5e8ba6"/><circle cx="40" cy="39.5" r="0.9" fill="#5e8ba6"/>
</svg>
<div style="position:absolute;left:901px;top:17px;font-size:19.5px;color:#fff;letter-spacing:3.1px;line-height:24px;white-space:nowrap">picodi</div>
</div>
</body></html>
